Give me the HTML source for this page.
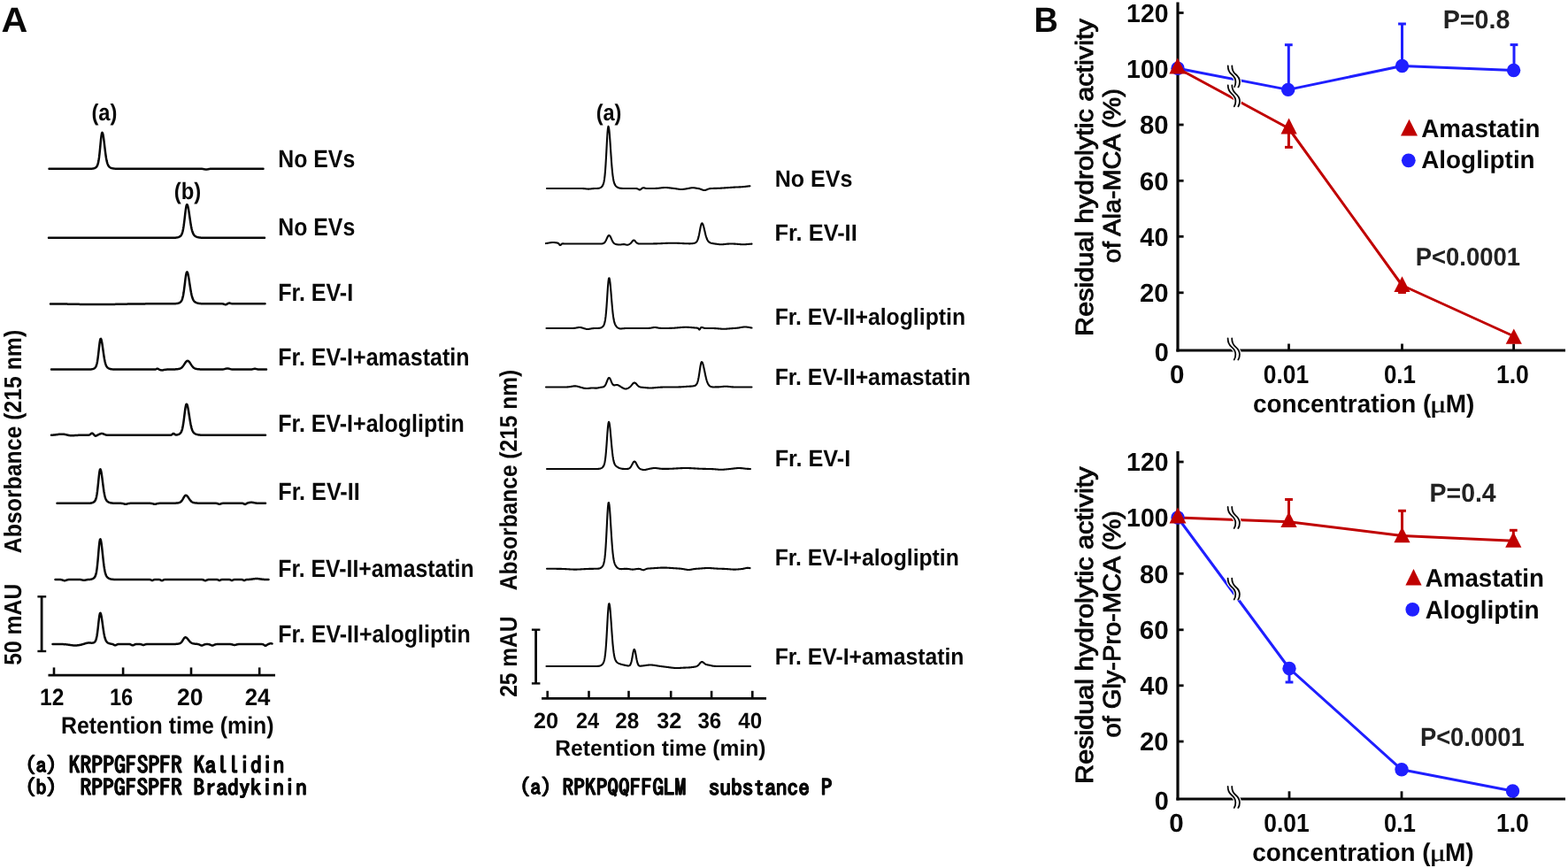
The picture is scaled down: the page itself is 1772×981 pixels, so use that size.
<!DOCTYPE html>
<html lang="en">
<head>
<meta charset="utf-8">
<title>Figure: peptide hydrolysis by EV fractions</title>
<style>
html,body{margin:0;padding:0;background:#fff;}
body{width:1772px;height:981px;overflow:hidden;}
svg{display:block;font-family:"Liberation Sans", Arial, Helvetica, sans-serif;text-rendering:geometricPrecision;}
</style>
</head>
<body>
<svg width="1772" height="981" viewBox="0 0 1772 981">
<rect width="1772" height="981" fill="#fff"/>
<text transform="translate(1.56 36.20) scale(1.0416 1)" font-size="39.57" font-weight="bold" fill="#080808">A</text>
<text transform="translate(1168.55 36.30) scale(0.9536 1)" font-size="39.71" font-weight="bold" fill="#080808">B</text>
<polyline points="55.5,190.80 56.0,190.80 56.5,190.80 57.0,190.80 57.5,190.80 58.0,190.80 58.5,190.80 59.0,190.80 59.5,190.80 60.0,190.80 60.5,190.80 61.0,190.80 61.5,190.80 62.0,190.80 62.5,190.80 63.0,190.80 63.5,190.80 64.0,190.80 64.5,190.80 65.0,190.80 65.5,190.80 66.0,190.80 66.5,190.80 67.0,190.80 67.5,190.80 68.0,190.80 68.5,190.80 69.0,190.80 69.5,190.80 70.0,190.80 70.5,190.80 71.0,190.80 71.5,190.80 72.0,190.80 72.5,190.80 73.0,190.80 73.5,190.80 74.0,190.80 74.5,190.80 75.0,190.80 75.5,190.80 76.0,190.80 76.5,190.80 77.0,190.80 77.5,190.80 78.0,190.80 78.5,190.80 79.0,190.80 79.5,190.80 80.0,190.80 80.5,190.80 81.0,190.80 81.5,190.80 82.0,190.80 82.5,190.80 83.0,190.80 83.5,190.80 84.0,190.80 84.5,190.80 85.0,190.80 85.5,190.80 86.0,190.80 86.5,190.80 87.0,190.80 87.5,190.80 88.0,190.80 88.5,190.80 89.0,190.80 89.5,190.80 90.0,190.80 90.5,190.80 91.0,190.80 91.5,190.80 92.0,190.80 92.5,190.80 93.0,190.80 93.5,190.80 94.0,190.80 94.5,190.80 95.0,190.80 95.5,190.80 96.0,190.80 96.5,190.80 97.0,190.80 97.5,190.80 98.0,190.80 98.5,190.80 99.0,190.80 99.5,190.80 100.0,190.79 100.5,190.79 101.0,190.79 101.5,190.78 102.0,190.77 102.5,190.75 103.0,190.73 103.5,190.70 104.0,190.66 104.5,190.61 105.0,190.54 105.5,190.44 106.0,190.33 106.5,190.18 107.0,190.00 107.5,189.77 108.0,189.48 108.5,189.12 109.0,188.64 109.5,187.99 110.0,187.08 110.5,185.77 111.0,183.92 111.5,181.36 112.0,177.96 112.5,173.71 113.0,168.72 113.5,163.37 114.0,158.17 114.5,153.78 115.0,150.84 115.5,149.80 116.0,150.47 116.5,152.40 117.0,155.40 117.5,159.17 118.0,163.37 118.5,167.67 119.0,171.79 119.5,175.51 120.0,178.71 120.5,181.36 121.0,183.47 121.5,185.11 122.0,186.35 122.5,187.29 123.0,187.99 123.5,188.52 124.0,188.94 124.5,189.27 125.0,189.54 125.5,189.77 126.0,189.95 126.5,190.11 127.0,190.24 127.5,190.35 128.0,190.44 128.5,190.52 129.0,190.58 129.5,190.63 130.0,190.67 130.5,190.70 131.0,190.73 131.5,190.74 132.0,190.76 132.5,190.77 133.0,190.78 133.5,190.78 134.0,190.79 134.5,190.79 135.0,190.79 135.5,190.80 136.0,190.80 136.5,190.80 137.0,190.80 137.5,190.80 138.0,190.80 138.5,190.80 139.0,190.80 139.5,190.80 140.0,190.80 140.5,190.80 141.0,190.80 141.5,190.80 142.0,190.80 142.5,190.80 143.0,190.80 143.5,190.80 144.0,190.80 144.5,190.80 145.0,190.80 145.5,190.80 146.0,190.80 146.5,190.80 147.0,190.80 147.5,190.80 148.0,190.80 148.5,190.80 149.0,190.80 149.5,190.80 150.0,190.80 150.5,190.80 151.0,190.80 151.5,190.80 152.0,190.80 152.5,190.80 153.0,190.80 153.5,190.80 154.0,190.80 154.5,190.80 155.0,190.80 155.5,190.80 156.0,190.80 156.5,190.80 157.0,190.80 157.5,190.80 158.0,190.80 158.5,190.80 159.0,190.80 159.5,190.80 160.0,190.80 160.5,190.80 161.0,190.80 161.5,190.80 162.0,190.80 162.5,190.80 163.0,190.80 163.5,190.80 164.0,190.80 164.5,190.80 165.0,190.80 165.5,190.80 166.0,190.80 166.5,190.80 167.0,190.80 167.5,190.80 168.0,190.80 168.5,190.80 169.0,190.80 169.5,190.80 170.0,190.80 170.5,190.80 171.0,190.80 171.5,190.80 172.0,190.80 172.5,190.80 173.0,190.80 173.5,190.80 174.0,190.80 174.5,190.80 175.0,190.80 175.5,190.80 176.0,190.80 176.5,190.80 177.0,190.80 177.5,190.80 178.0,190.80 178.5,190.80 179.0,190.80 179.5,190.80 180.0,190.80 180.5,190.80 181.0,190.80 181.5,190.80 182.0,190.80 182.5,190.80 183.0,190.80 183.5,190.80 184.0,190.80 184.5,190.80 185.0,190.80 185.5,190.80 186.0,190.80 186.5,190.80 187.0,190.80 187.5,190.80 188.0,190.80 188.5,190.80 189.0,190.80 189.5,190.80 190.0,190.80 190.5,190.80 191.0,190.80 191.5,190.80 192.0,190.80 192.5,190.80 193.0,190.80 193.5,190.80 194.0,190.80 194.5,190.80 195.0,190.80 195.5,190.80 196.0,190.80 196.5,190.80 197.0,190.80 197.5,190.80 198.0,190.80 198.5,190.80 199.0,190.80 199.5,190.80 200.0,190.80 200.5,190.80 201.0,190.80 201.5,190.80 202.0,190.80 202.5,190.80 203.0,190.80 203.5,190.80 204.0,190.80 204.5,190.80 205.0,190.80 205.5,190.80 206.0,190.80 206.5,190.80 207.0,190.80 207.5,190.80 208.0,190.80 208.5,190.80 209.0,190.80 209.5,190.80 210.0,190.80 210.5,190.80 211.0,190.80 211.5,190.80 212.0,190.80 212.5,190.80 213.0,190.80 213.5,190.80 214.0,190.80 214.5,190.80 215.0,190.80 215.5,190.80 216.0,190.80 216.5,190.80 217.0,190.80 217.5,190.80 218.0,190.80 218.5,190.80 219.0,190.80 219.5,190.80 220.0,190.80 220.5,190.80 221.0,190.80 221.5,190.80 222.0,190.80 222.5,190.80 223.0,190.80 223.5,190.80 224.0,190.80 224.5,190.80 225.0,190.80 225.5,190.80 226.0,190.80 226.5,190.80 227.0,190.81 227.5,190.82 228.0,190.84 228.5,190.86 229.0,190.91 229.5,190.97 230.0,191.06 230.5,191.17 231.0,191.29 231.5,191.40 232.0,191.51 232.5,191.58 233.0,191.60 233.5,191.58 234.0,191.51 234.5,191.40 235.0,191.29 235.5,191.17 236.0,191.06 236.5,190.97 237.0,190.91 237.5,190.86 238.0,190.84 238.5,190.82 239.0,190.81 239.5,190.80 240.0,190.80 240.5,190.80 241.0,190.80 241.5,190.80 242.0,190.80 242.5,190.80 243.0,190.80 243.5,190.80 244.0,190.80 244.5,190.80 245.0,190.80 245.5,190.80 246.0,190.80 246.5,190.80 247.0,190.80 247.5,190.80 248.0,190.80 248.5,190.80 249.0,190.80 249.5,190.80 250.0,190.80 250.5,190.80 251.0,190.80 251.5,190.80 252.0,190.80 252.5,190.80 253.0,190.80 253.5,190.80 254.0,190.80 254.5,190.80 255.0,190.80 255.5,190.80 256.0,190.80 256.5,190.80 257.0,190.80 257.5,190.80 258.0,190.80 258.5,190.80 259.0,190.80 259.5,190.80 260.0,190.80 260.5,190.80 261.0,190.80 261.5,190.80 262.0,190.80 262.5,190.80 263.0,190.80 263.5,190.80 264.0,190.80 264.5,190.80 265.0,190.80 265.5,190.80 266.0,190.80 266.5,190.80 267.0,190.80 267.5,190.80 268.0,190.80 268.5,190.80 269.0,190.80 269.5,190.80 270.0,190.80 270.5,190.80 271.0,190.80 271.5,190.80 272.0,190.80 272.5,190.80 273.0,190.80 273.5,190.80 274.0,190.80 274.5,190.80 275.0,190.80 275.5,190.80 276.0,190.80 276.5,190.80 277.0,190.80 277.5,190.80 278.0,190.80 278.5,190.80 279.0,190.80 279.5,190.80 280.0,190.80 280.5,190.80 281.0,190.80 281.5,190.80 282.0,190.80 282.5,190.80 283.0,190.80 283.5,190.80 284.0,190.80 284.5,190.80 285.0,190.80 285.5,190.80 286.0,190.80 286.5,190.80 287.0,190.80 287.5,190.80 288.0,190.80 288.5,190.80 289.0,190.80 289.5,190.80 290.0,190.80 290.5,190.80 291.0,190.80 291.5,190.80 292.0,190.80 292.5,190.80 293.0,190.80 293.5,190.80 294.0,190.80 294.5,190.80 295.0,190.80 295.5,190.80 296.0,190.80 296.5,190.80 297.0,190.80 297.5,190.80" fill="none" stroke="#080808" stroke-width="2.5" stroke-linejoin="round" stroke-linecap="round"/>
<text transform="translate(314.26 188.60) scale(0.8926 1)" font-size="27.83" font-weight="bold" fill="#080808" xml:space="preserve">No EVs</text>
<polyline points="55.0,268.80 55.5,268.80 56.0,268.80 56.5,268.80 57.0,268.80 57.5,268.80 58.0,268.80 58.5,268.80 59.0,268.80 59.5,268.80 60.0,268.80 60.5,268.80 61.0,268.80 61.5,268.80 62.0,268.80 62.5,268.80 63.0,268.80 63.5,268.80 64.0,268.80 64.5,268.80 65.0,268.80 65.5,268.80 66.0,268.80 66.5,268.80 67.0,268.80 67.5,268.80 68.0,268.80 68.5,268.80 69.0,268.80 69.5,268.80 70.0,268.80 70.5,268.80 71.0,268.80 71.5,268.80 72.0,268.80 72.5,268.80 73.0,268.80 73.5,268.80 74.0,268.80 74.5,268.80 75.0,268.80 75.5,268.80 76.0,268.80 76.5,268.80 77.0,268.80 77.5,268.80 78.0,268.80 78.5,268.80 79.0,268.80 79.5,268.80 80.0,268.80 80.5,268.80 81.0,268.80 81.5,268.80 82.0,268.80 82.5,268.80 83.0,268.80 83.5,268.80 84.0,268.80 84.5,268.80 85.0,268.80 85.5,268.80 86.0,268.80 86.5,268.80 87.0,268.80 87.5,268.80 88.0,268.80 88.5,268.80 89.0,268.80 89.5,268.80 90.0,268.80 90.5,268.80 91.0,268.80 91.5,268.80 92.0,268.80 92.5,268.80 93.0,268.80 93.5,268.80 94.0,268.80 94.5,268.80 95.0,268.80 95.5,268.80 96.0,268.80 96.5,268.80 97.0,268.80 97.5,268.80 98.0,268.80 98.5,268.80 99.0,268.80 99.5,268.80 100.0,268.80 100.5,268.80 101.0,268.80 101.5,268.80 102.0,268.80 102.5,268.80 103.0,268.80 103.5,268.80 104.0,268.80 104.5,268.80 105.0,268.80 105.5,268.80 106.0,268.80 106.5,268.80 107.0,268.80 107.5,268.80 108.0,268.80 108.5,268.80 109.0,268.80 109.5,268.80 110.0,268.80 110.5,268.80 111.0,268.80 111.5,268.80 112.0,268.80 112.5,268.80 113.0,268.80 113.5,268.80 114.0,268.80 114.5,268.80 115.0,268.80 115.5,268.80 116.0,268.80 116.5,268.80 117.0,268.80 117.5,268.80 118.0,268.80 118.5,268.80 119.0,268.80 119.5,268.80 120.0,268.80 120.5,268.80 121.0,268.80 121.5,268.80 122.0,268.80 122.5,268.80 123.0,268.80 123.5,268.80 124.0,268.80 124.5,268.80 125.0,268.80 125.5,268.80 126.0,268.80 126.5,268.80 127.0,268.80 127.5,268.80 128.0,268.80 128.5,268.80 129.0,268.80 129.5,268.80 130.0,268.80 130.5,268.80 131.0,268.80 131.5,268.80 132.0,268.80 132.5,268.80 133.0,268.80 133.5,268.80 134.0,268.80 134.5,268.80 135.0,268.80 135.5,268.80 136.0,268.80 136.5,268.80 137.0,268.80 137.5,268.80 138.0,268.80 138.5,268.80 139.0,268.80 139.5,268.80 140.0,268.80 140.5,268.80 141.0,268.80 141.5,268.80 142.0,268.80 142.5,268.80 143.0,268.80 143.5,268.80 144.0,268.80 144.5,268.80 145.0,268.80 145.5,268.80 146.0,268.80 146.5,268.80 147.0,268.80 147.5,268.80 148.0,268.80 148.5,268.80 149.0,268.80 149.5,268.80 150.0,268.80 150.5,268.80 151.0,268.80 151.5,268.80 152.0,268.80 152.5,268.80 153.0,268.80 153.5,268.80 154.0,268.80 154.5,268.80 155.0,268.80 155.5,268.80 156.0,268.80 156.5,268.80 157.0,268.80 157.5,268.80 158.0,268.80 158.5,268.80 159.0,268.80 159.5,268.80 160.0,268.80 160.5,268.80 161.0,268.80 161.5,268.80 162.0,268.80 162.5,268.80 163.0,268.80 163.5,268.80 164.0,268.80 164.5,268.80 165.0,268.80 165.5,268.80 166.0,268.80 166.5,268.80 167.0,268.80 167.5,268.80 168.0,268.80 168.5,268.80 169.0,268.80 169.5,268.80 170.0,268.80 170.5,268.80 171.0,268.80 171.5,268.80 172.0,268.80 172.5,268.80 173.0,268.80 173.5,268.80 174.0,268.80 174.5,268.80 175.0,268.80 175.5,268.80 176.0,268.80 176.5,268.80 177.0,268.80 177.5,268.80 178.0,268.80 178.5,268.80 179.0,268.80 179.5,268.80 180.0,268.80 180.5,268.80 181.0,268.80 181.5,268.80 182.0,268.80 182.5,268.80 183.0,268.80 183.5,268.80 184.0,268.80 184.5,268.80 185.0,268.80 185.5,268.80 186.0,268.80 186.5,268.80 187.0,268.80 187.5,268.80 188.0,268.80 188.5,268.80 189.0,268.80 189.5,268.80 190.0,268.80 190.5,268.80 191.0,268.80 191.5,268.80 192.0,268.80 192.5,268.80 193.0,268.80 193.5,268.80 194.0,268.79 194.5,268.79 195.0,268.79 195.5,268.78 196.0,268.77 196.5,268.76 197.0,268.74 197.5,268.72 198.0,268.69 198.5,268.66 199.0,268.61 199.5,268.55 200.0,268.47 200.5,268.38 201.0,268.26 201.5,268.12 202.0,267.95 202.5,267.74 203.0,267.49 203.5,267.17 204.0,266.77 204.5,266.24 205.0,265.52 205.5,264.53 206.0,263.19 206.5,261.37 207.0,258.99 207.5,255.99 208.0,252.38 208.5,248.28 209.0,243.92 209.5,239.64 210.0,235.86 210.5,232.99 211.0,231.37 211.5,231.18 212.0,232.04 212.5,233.78 213.0,236.27 213.5,239.31 214.0,242.70 214.5,246.20 215.0,249.63 215.5,252.84 216.0,255.72 216.5,258.22 217.0,260.31 217.5,262.01 218.0,263.37 218.5,264.44 219.0,265.27 219.5,265.92 220.0,266.42 220.5,266.82 221.0,267.14 221.5,267.41 222.0,267.63 222.5,267.81 223.0,267.97 223.5,268.11 224.0,268.23 224.5,268.33 225.0,268.41 225.5,268.48 226.0,268.54 226.5,268.59 227.0,268.64 227.5,268.67 228.0,268.70 228.5,268.72 229.0,268.74 229.5,268.75 230.0,268.76 230.5,268.77 231.0,268.78 231.5,268.78 232.0,268.79 232.5,268.79 233.0,268.79 233.5,268.80 234.0,268.80 234.5,268.80 235.0,268.80 235.5,268.80 236.0,268.80 236.5,268.80 237.0,268.80 237.5,268.80 238.0,268.80 238.5,268.80 239.0,268.80 239.5,268.80 240.0,268.80 240.5,268.80 241.0,268.80 241.5,268.80 242.0,268.80 242.5,268.80 243.0,268.80 243.5,268.80 244.0,268.80 244.5,268.80 245.0,268.80 245.5,268.80 246.0,268.80 246.5,268.80 247.0,268.80 247.5,268.80 248.0,268.80 248.5,268.80 249.0,268.80 249.5,268.80 250.0,268.80 250.5,268.80 251.0,268.80 251.5,268.80 252.0,268.80 252.5,268.80 253.0,268.80 253.5,268.80 254.0,268.80 254.5,268.80 255.0,268.80 255.5,268.80 256.0,268.80 256.5,268.80 257.0,268.80 257.5,268.80 258.0,268.80 258.5,268.80 259.0,268.80 259.5,268.80 260.0,268.80 260.5,268.80 261.0,268.80 261.5,268.80 262.0,268.80 262.5,268.80 263.0,268.80 263.5,268.80 264.0,268.80 264.5,268.80 265.0,268.80 265.5,268.80 266.0,268.80 266.5,268.80 267.0,268.80 267.5,268.80 268.0,268.80 268.5,268.80 269.0,268.80 269.5,268.80 270.0,268.80 270.5,268.80 271.0,268.80 271.5,268.80 272.0,268.80 272.5,268.80 273.0,268.80 273.5,268.80 274.0,268.80 274.5,268.80 275.0,268.80 275.5,268.80 276.0,268.80 276.5,268.80 277.0,268.80 277.5,268.80 278.0,268.80 278.5,268.80 279.0,268.80 279.5,268.80 280.0,268.80 280.5,268.80 281.0,268.80 281.5,268.80 282.0,268.80 282.5,268.80 283.0,268.80 283.5,268.80 284.0,268.80 284.5,268.80 285.0,268.80 285.5,268.80 286.0,268.80 286.5,268.80 287.0,268.80 287.5,268.80 288.0,268.80 288.5,268.80 289.0,268.80 289.5,268.80 290.0,268.80 290.5,268.80 291.0,268.80 291.5,268.80 292.0,268.80 292.5,268.80 293.0,268.80 293.5,268.80 294.0,268.80 294.5,268.80 295.0,268.80 295.5,268.80 296.0,268.80 296.5,268.80 297.0,268.80 297.5,268.80 298.0,268.80 298.5,268.80 299.0,268.80" fill="none" stroke="#080808" stroke-width="2.5" stroke-linejoin="round" stroke-linecap="round"/>
<text transform="translate(314.26 265.50) scale(0.8926 1)" font-size="27.83" font-weight="bold" fill="#080808" xml:space="preserve">No EVs</text>
<polyline points="57.0,343.38 57.5,343.39 58.0,343.39 58.5,343.40 59.0,343.40 59.5,343.40 60.0,343.41 60.5,343.41 61.0,343.42 61.5,343.42 62.0,343.43 62.5,343.43 63.0,343.44 63.5,343.44 64.0,343.45 64.5,343.45 65.0,343.46 65.5,343.46 66.0,343.47 66.5,343.48 67.0,343.48 67.5,343.49 68.0,343.50 68.5,343.50 69.0,343.51 69.5,343.52 70.0,343.52 70.5,343.53 71.0,343.54 71.5,343.54 72.0,343.55 72.5,343.56 73.0,343.57 73.5,343.58 74.0,343.58 74.5,343.59 75.0,343.60 75.5,343.61 76.0,343.62 76.5,343.63 77.0,343.63 77.5,343.64 78.0,343.65 78.5,343.66 79.0,343.67 79.5,343.68 80.0,343.69 80.5,343.70 81.0,343.71 81.5,343.72 82.0,343.73 82.5,343.74 83.0,343.75 83.5,343.76 84.0,343.77 84.5,343.78 85.0,343.79 85.5,343.79 86.0,343.80 86.5,343.81 87.0,343.82 87.5,343.83 88.0,343.84 88.5,343.85 89.0,343.86 89.5,343.87 90.0,343.88 90.5,343.89 91.0,343.90 91.5,343.91 92.0,343.92 92.5,343.93 93.0,343.93 93.5,343.94 94.0,343.95 94.5,343.96 95.0,343.97 95.5,343.98 96.0,343.98 96.5,343.99 97.0,344.00 97.5,344.01 98.0,344.01 98.5,344.02 99.0,344.03 99.5,344.03 100.0,344.04 100.5,344.04 101.0,344.05 101.5,344.06 102.0,344.06 102.5,344.06 103.0,344.07 103.5,344.07 104.0,344.08 104.5,344.08 105.0,344.08 105.5,344.09 106.0,344.09 106.5,344.09 107.0,344.09 107.5,344.10 108.0,344.10 108.5,344.10 109.0,344.10 109.5,344.10 110.0,344.10 110.5,344.10 111.0,344.10 111.5,344.10 112.0,344.10 112.5,344.10 113.0,344.09 113.5,344.09 114.0,344.09 114.5,344.09 115.0,344.08 115.5,344.08 116.0,344.08 116.5,344.07 117.0,344.07 117.5,344.06 118.0,344.06 118.5,344.06 119.0,344.05 119.5,344.04 120.0,344.04 120.5,344.03 121.0,344.03 121.5,344.02 122.0,344.01 122.5,344.01 123.0,344.00 123.5,343.99 124.0,343.98 124.5,343.98 125.0,343.97 125.5,343.96 126.0,343.95 126.5,343.94 127.0,343.93 127.5,343.93 128.0,343.92 128.5,343.91 129.0,343.90 129.5,343.89 130.0,343.88 130.5,343.87 131.0,343.86 131.5,343.85 132.0,343.84 132.5,343.83 133.0,343.82 133.5,343.81 134.0,343.80 134.5,343.79 135.0,343.79 135.5,343.78 136.0,343.77 136.5,343.76 137.0,343.75 137.5,343.74 138.0,343.73 138.5,343.72 139.0,343.71 139.5,343.70 140.0,343.69 140.5,343.68 141.0,343.67 141.5,343.66 142.0,343.65 142.5,343.64 143.0,343.63 143.5,343.63 144.0,343.62 144.5,343.61 145.0,343.60 145.5,343.59 146.0,343.58 146.5,343.58 147.0,343.57 147.5,343.56 148.0,343.55 148.5,343.54 149.0,343.54 149.5,343.53 150.0,343.52 150.5,343.52 151.0,343.51 151.5,343.50 152.0,343.50 152.5,343.49 153.0,343.48 153.5,343.48 154.0,343.47 154.5,343.46 155.0,343.46 155.5,343.45 156.0,343.45 156.5,343.44 157.0,343.44 157.5,343.43 158.0,343.43 158.5,343.42 159.0,343.42 159.5,343.41 160.0,343.41 160.5,343.40 161.0,343.40 161.5,343.40 162.0,343.39 162.5,343.39 163.0,343.38 163.5,343.38 164.0,343.38 164.5,343.37 165.0,343.37 165.5,343.37 166.0,343.37 166.5,343.36 167.0,343.36 167.5,343.36 168.0,343.35 168.5,343.35 169.0,343.35 169.5,343.35 170.0,343.34 170.5,343.34 171.0,343.34 171.5,343.34 172.0,343.34 172.5,343.34 173.0,343.33 173.5,343.33 174.0,343.33 174.5,343.33 175.0,343.33 175.5,343.33 176.0,343.32 176.5,343.32 177.0,343.32 177.5,343.32 178.0,343.32 178.5,343.32 179.0,343.32 179.5,343.32 180.0,343.32 180.5,343.32 181.0,343.31 181.5,343.31 182.0,343.31 182.5,343.31 183.0,343.31 183.5,343.31 184.0,343.31 184.5,343.31 185.0,343.31 185.5,343.31 186.0,343.31 186.5,343.31 187.0,343.31 187.5,343.31 188.0,343.31 188.5,343.31 189.0,343.31 189.5,343.30 190.0,343.30 190.5,343.30 191.0,343.30 191.5,343.30 192.0,343.30 192.5,343.30 193.0,343.30 193.5,343.30 194.0,343.30 194.5,343.29 195.0,343.29 195.5,343.28 196.0,343.27 196.5,343.26 197.0,343.25 197.5,343.23 198.0,343.20 198.5,343.16 199.0,343.12 199.5,343.06 200.0,342.99 200.5,342.90 201.0,342.79 201.5,342.65 202.0,342.49 202.5,342.29 203.0,342.05 203.5,341.75 204.0,341.36 204.5,340.85 205.0,340.17 205.5,339.23 206.0,337.94 206.5,336.21 207.0,333.93 207.5,331.07 208.0,327.62 208.5,323.70 209.0,319.54 209.5,315.46 210.0,311.84 210.5,309.10 211.0,307.56 211.5,307.37 212.0,308.19 212.5,309.86 213.0,312.24 213.5,315.14 214.0,318.37 214.5,321.72 215.0,325.00 215.5,328.06 216.0,330.81 216.5,333.19 217.0,335.19 217.5,336.82 218.0,338.12 218.5,339.14 219.0,339.93 219.5,340.55 220.0,341.03 220.5,341.41 221.0,341.72 221.5,341.97 222.0,342.18 222.5,342.36 223.0,342.51 223.5,342.64 224.0,342.75 224.5,342.85 225.0,342.93 225.5,343.00 226.0,343.05 226.5,343.10 227.0,343.14 227.5,343.18 228.0,343.20 228.5,343.22 229.0,343.24 229.5,343.25 230.0,343.27 230.5,343.27 231.0,343.28 231.5,343.29 232.0,343.29 232.5,343.29 233.0,343.29 233.5,343.30 234.0,343.30 234.5,343.30 235.0,343.30 235.5,343.30 236.0,343.30 236.5,343.30 237.0,343.30 237.5,343.30 238.0,343.30 238.5,343.30 239.0,343.30 239.5,343.30 240.0,343.30 240.5,343.30 241.0,343.30 241.5,343.30 242.0,343.30 242.5,343.30 243.0,343.30 243.5,343.30 244.0,343.30 244.5,343.30 245.0,343.30 245.5,343.30 246.0,343.30 246.5,343.30 247.0,343.30 247.5,343.30 248.0,343.30 248.5,343.30 249.0,343.30 249.5,343.30 250.0,343.30 250.5,343.31 251.0,343.33 251.5,343.37 252.0,343.44 252.5,343.55 253.0,343.71 253.5,343.91 254.0,344.10 254.5,344.24 255.0,344.28 255.5,344.19 256.0,343.99 256.5,343.71 257.0,343.38 257.5,343.06 258.0,342.79 258.5,342.61 259.0,342.53 259.5,342.55 260.0,342.66 260.5,342.82 261.0,342.97 261.5,343.10 262.0,343.19 262.5,343.25 263.0,343.28 263.5,343.29 264.0,343.30 264.5,343.30 265.0,343.30 265.5,343.30 266.0,343.30 266.5,343.30 267.0,343.30 267.5,343.30 268.0,343.30 268.5,343.30 269.0,343.30 269.5,343.30 270.0,343.30 270.5,343.30 271.0,343.30 271.5,343.30 272.0,343.30 272.5,343.30 273.0,343.30 273.5,343.30 274.0,343.30 274.5,343.30 275.0,343.30 275.5,343.30 276.0,343.30 276.5,343.30 277.0,343.30 277.5,343.30 278.0,343.30 278.5,343.30 279.0,343.30 279.5,343.30 280.0,343.30 280.5,343.30 281.0,343.30 281.5,343.30 282.0,343.30 282.5,343.30 283.0,343.30 283.5,343.30 284.0,343.30 284.5,343.30 285.0,343.30 285.5,343.30 286.0,343.30 286.5,343.30 287.0,343.30 287.5,343.30 288.0,343.30 288.5,343.30 289.0,343.30 289.5,343.30 290.0,343.30 290.5,343.30 291.0,343.30 291.5,343.30 292.0,343.30 292.5,343.30 293.0,343.30 293.5,343.30 294.0,343.30 294.5,343.30 295.0,343.30 295.5,343.30 296.0,343.30 296.5,343.30 297.0,343.30 297.5,343.30 298.0,343.30 298.5,343.30 299.0,343.30 299.5,343.30" fill="none" stroke="#080808" stroke-width="2.5" stroke-linejoin="round" stroke-linecap="round"/>
<text transform="translate(314.25 340.30) scale(0.9001 1)" font-size="27.83" font-weight="bold" fill="#080808" xml:space="preserve">Fr. EV-I</text>
<polyline points="58.0,417.60 58.5,417.60 59.0,417.60 59.5,417.60 60.0,417.60 60.5,417.60 61.0,417.60 61.5,417.60 62.0,417.60 62.5,417.60 63.0,417.60 63.5,417.60 64.0,417.60 64.5,417.60 65.0,417.60 65.5,417.60 66.0,417.60 66.5,417.60 67.0,417.60 67.5,417.60 68.0,417.60 68.5,417.60 69.0,417.60 69.5,417.60 70.0,417.60 70.5,417.60 71.0,417.60 71.5,417.60 72.0,417.60 72.5,417.60 73.0,417.60 73.5,417.60 74.0,417.60 74.5,417.60 75.0,417.60 75.5,417.60 76.0,417.60 76.5,417.60 77.0,417.60 77.5,417.60 78.0,417.60 78.5,417.60 79.0,417.60 79.5,417.60 80.0,417.60 80.5,417.60 81.0,417.60 81.5,417.60 82.0,417.60 82.5,417.60 83.0,417.60 83.5,417.60 84.0,417.60 84.5,417.60 85.0,417.60 85.5,417.60 86.0,417.60 86.5,417.60 87.0,417.60 87.5,417.60 88.0,417.60 88.5,417.60 89.0,417.60 89.5,417.60 90.0,417.60 90.5,417.60 91.0,417.60 91.5,417.60 92.0,417.60 92.5,417.60 93.0,417.60 93.5,417.60 94.0,417.60 94.5,417.60 95.0,417.60 95.5,417.60 96.0,417.60 96.5,417.60 97.0,417.60 97.5,417.60 98.0,417.60 98.5,417.59 99.0,417.59 99.5,417.59 100.0,417.58 100.5,417.57 101.0,417.55 101.5,417.53 102.0,417.50 102.5,417.47 103.0,417.41 103.5,417.35 104.0,417.26 104.5,417.15 105.0,417.01 105.5,416.84 106.0,416.63 106.5,416.37 107.0,416.02 107.5,415.57 108.0,414.94 108.5,414.04 109.0,412.77 109.5,410.97 110.0,408.53 110.5,405.34 111.0,401.46 111.5,397.06 112.0,392.50 112.5,388.30 113.0,385.01 113.5,383.12 114.0,382.89 114.5,383.90 115.0,385.93 115.5,388.77 116.0,392.15 116.5,395.78 117.0,399.39 117.5,402.77 118.0,405.76 118.5,408.30 119.0,410.36 119.5,411.98 120.0,413.23 120.5,414.17 121.0,414.88 121.5,415.41 122.0,415.82 122.5,416.14 123.0,416.40 123.5,416.61 124.0,416.79 124.5,416.94 125.0,417.06 125.5,417.17 126.0,417.25 126.5,417.33 127.0,417.38 127.5,417.43 128.0,417.47 128.5,417.50 129.0,417.53 129.5,417.54 130.0,417.56 130.5,417.57 131.0,417.58 131.5,417.58 132.0,417.59 132.5,417.59 133.0,417.59 133.5,417.60 134.0,417.60 134.5,417.60 135.0,417.60 135.5,417.60 136.0,417.60 136.5,417.60 137.0,417.60 137.5,417.60 138.0,417.60 138.5,417.60 139.0,417.60 139.5,417.60 140.0,417.60 140.5,417.60 141.0,417.60 141.5,417.60 142.0,417.60 142.5,417.60 143.0,417.60 143.5,417.60 144.0,417.60 144.5,417.60 145.0,417.60 145.5,417.60 146.0,417.60 146.5,417.60 147.0,417.60 147.5,417.60 148.0,417.60 148.5,417.60 149.0,417.60 149.5,417.60 150.0,417.60 150.5,417.60 151.0,417.60 151.5,417.60 152.0,417.60 152.5,417.60 153.0,417.60 153.5,417.60 154.0,417.60 154.5,417.60 155.0,417.60 155.5,417.60 156.0,417.60 156.5,417.60 157.0,417.60 157.5,417.60 158.0,417.60 158.5,417.60 159.0,417.60 159.5,417.60 160.0,417.60 160.5,417.60 161.0,417.60 161.5,417.60 162.0,417.60 162.5,417.60 163.0,417.60 163.5,417.60 164.0,417.60 164.5,417.60 165.0,417.60 165.5,417.60 166.0,417.60 166.5,417.60 167.0,417.60 167.5,417.60 168.0,417.60 168.5,417.60 169.0,417.60 169.5,417.60 170.0,417.60 170.5,417.60 171.0,417.60 171.5,417.60 172.0,417.60 172.5,417.60 173.0,417.60 173.5,417.60 174.0,417.60 174.5,417.59 175.0,417.56 175.5,417.49 176.0,417.35 176.5,417.15 177.0,416.90 177.5,416.70 178.0,416.64 178.5,416.75 179.0,417.00 179.5,417.32 180.0,417.61 180.5,417.85 181.0,418.04 181.5,418.19 182.0,418.30 182.5,418.37 183.0,418.40 183.5,418.38 184.0,418.31 184.5,418.20 185.0,418.08 185.5,417.97 186.0,417.86 186.5,417.77 187.0,417.71 187.5,417.66 188.0,417.63 188.5,417.61 189.0,417.60 189.5,417.60 190.0,417.59 190.5,417.59 191.0,417.59 191.5,417.58 192.0,417.58 192.5,417.57 193.0,417.57 193.5,417.56 194.0,417.55 194.5,417.54 195.0,417.53 195.5,417.51 196.0,417.50 196.5,417.48 197.0,417.46 197.5,417.43 198.0,417.41 198.5,417.37 199.0,417.34 199.5,417.29 200.0,417.25 200.5,417.19 201.0,417.12 201.5,417.04 202.0,416.95 202.5,416.83 203.0,416.68 203.5,416.50 204.0,416.28 204.5,416.00 205.0,415.66 205.5,415.25 206.0,414.77 206.5,414.21 207.0,413.57 207.5,412.87 208.0,412.12 208.5,411.35 209.0,410.57 209.5,409.83 210.0,409.16 210.5,408.59 211.0,408.16 211.5,407.89 212.0,407.80 212.5,407.89 213.0,408.16 213.5,408.59 214.0,409.16 214.5,409.83 215.0,410.57 215.5,411.35 216.0,412.12 216.5,412.87 217.0,413.57 217.5,414.21 218.0,414.77 218.5,415.25 219.0,415.66 219.5,416.00 220.0,416.28 220.5,416.50 221.0,416.68 221.5,416.83 222.0,416.95 222.5,417.04 223.0,417.12 223.5,417.19 224.0,417.25 224.5,417.29 225.0,417.34 225.5,417.37 226.0,417.41 226.5,417.43 227.0,417.46 227.5,417.48 228.0,417.50 228.5,417.51 229.0,417.53 229.5,417.54 230.0,417.55 230.5,417.56 231.0,417.57 231.5,417.57 232.0,417.58 232.5,417.58 233.0,417.59 233.5,417.59 234.0,417.59 234.5,417.59 235.0,417.59 235.5,417.60 236.0,417.60 236.5,417.60 237.0,417.60 237.5,417.60 238.0,417.60 238.5,417.60 239.0,417.60 239.5,417.60 240.0,417.60 240.5,417.60 241.0,417.60 241.5,417.60 242.0,417.60 242.5,417.60 243.0,417.60 243.5,417.60 244.0,417.60 244.5,417.60 245.0,417.60 245.5,417.60 246.0,417.60 246.5,417.60 247.0,417.60 247.5,417.60 248.0,417.60 248.5,417.60 249.0,417.59 249.5,417.59 250.0,417.58 250.5,417.56 251.0,417.53 251.5,417.49 252.0,417.44 252.5,417.36 253.0,417.27 253.5,417.15 254.0,417.02 254.5,416.87 255.0,416.73 255.5,416.60 256.0,416.49 256.5,416.42 257.0,416.40 257.5,416.42 258.0,416.49 258.5,416.60 259.0,416.73 259.5,416.87 260.0,417.02 260.5,417.15 261.0,417.27 261.5,417.36 262.0,417.44 262.5,417.49 263.0,417.53 263.5,417.56 264.0,417.58 264.5,417.59 265.0,417.59 265.5,417.60 266.0,417.60 266.5,417.60 267.0,417.60 267.5,417.60 268.0,417.60 268.5,417.60 269.0,417.60 269.5,417.60 270.0,417.60 270.5,417.60 271.0,417.60 271.5,417.60 272.0,417.60 272.5,417.60 273.0,417.60 273.5,417.60 274.0,417.60 274.5,417.60 275.0,417.60 275.5,417.60 276.0,417.60 276.5,417.60 277.0,417.60 277.5,417.60 278.0,417.60 278.5,417.60 279.0,417.60 279.5,417.60 280.0,417.60 280.5,417.60 281.0,417.60 281.5,417.60 282.0,417.59 282.5,417.58 283.0,417.56 283.5,417.54 284.0,417.49 284.5,417.43 285.0,417.34 285.5,417.23 286.0,417.11 286.5,417.00 287.0,416.89 287.5,416.82 288.0,416.80 288.5,416.82 289.0,416.89 289.5,417.00 290.0,417.11 290.5,417.23 291.0,417.34 291.5,417.43 292.0,417.49 292.5,417.54 293.0,417.56 293.5,417.58 294.0,417.59 294.5,417.60 295.0,417.60 295.5,417.60 296.0,417.60 296.5,417.60 297.0,417.60 297.5,417.60 298.0,417.60 298.5,417.60 299.0,417.60 299.5,417.60 300.0,417.60 300.5,417.60 301.0,417.60" fill="none" stroke="#080808" stroke-width="2.5" stroke-linejoin="round" stroke-linecap="round"/>
<text transform="translate(314.25 412.80) scale(0.8991 1)" font-size="27.83" font-weight="bold" fill="#080808" xml:space="preserve">Fr. EV-I+amastatin</text>
<polyline points="58.0,491.73 58.5,491.71 59.0,491.69 59.5,491.67 60.0,491.64 60.5,491.60 61.0,491.56 61.5,491.52 62.0,491.47 62.5,491.41 63.0,491.35 63.5,491.28 64.0,491.22 64.5,491.15 65.0,491.07 65.5,491.00 66.0,490.93 66.5,490.86 67.0,490.80 67.5,490.75 68.0,490.70 68.5,490.66 69.0,490.64 69.5,490.63 70.0,490.63 70.5,490.64 71.0,490.67 71.5,490.72 72.0,490.77 72.5,490.84 73.0,490.93 73.5,491.02 74.0,491.12 74.5,491.23 75.0,491.35 75.5,491.46 76.0,491.58 76.5,491.69 77.0,491.80 77.5,491.90 78.0,492.00 78.5,492.08 79.0,492.14 79.5,492.20 80.0,492.24 80.5,492.26 81.0,492.27 81.5,492.27 82.0,492.26 82.5,492.24 83.0,492.21 83.5,492.18 84.0,492.14 84.5,492.10 85.0,492.06 85.5,492.02 86.0,491.99 86.5,491.96 87.0,491.93 87.5,491.90 88.0,491.88 88.5,491.86 89.0,491.85 89.5,491.84 90.0,491.83 90.5,491.82 91.0,491.81 91.5,491.81 92.0,491.81 92.5,491.80 93.0,491.80 93.5,491.80 94.0,491.80 94.5,491.80 95.0,491.80 95.5,491.80 96.0,491.80 96.5,491.80 97.0,491.80 97.5,491.80 98.0,491.80 98.5,491.80 99.0,491.79 99.5,491.78 100.0,491.74 100.5,491.66 101.0,491.50 101.5,491.25 102.0,490.90 102.5,490.47 103.0,490.04 103.5,489.72 104.0,489.60 104.5,489.73 105.0,490.08 105.5,490.58 106.0,491.14 106.5,491.70 107.0,492.20 107.5,492.55 108.0,492.70 108.5,492.63 109.0,492.40 109.5,492.10 110.0,491.81 110.5,491.56 111.0,491.34 111.5,491.14 112.0,490.93 112.5,490.71 113.0,490.49 113.5,490.30 114.0,490.14 114.5,490.04 115.0,490.00 115.5,490.04 116.0,490.14 116.5,490.30 117.0,490.49 117.5,490.71 118.0,490.92 118.5,491.12 119.0,491.30 119.5,491.44 120.0,491.56 120.5,491.64 121.0,491.70 121.5,491.74 122.0,491.76 122.5,491.78 123.0,491.79 123.5,491.79 124.0,491.80 124.5,491.80 125.0,491.80 125.5,491.80 126.0,491.80 126.5,491.80 127.0,491.80 127.5,491.80 128.0,491.80 128.5,491.80 129.0,491.80 129.5,491.80 130.0,491.80 130.5,491.80 131.0,491.80 131.5,491.80 132.0,491.80 132.5,491.80 133.0,491.80 133.5,491.80 134.0,491.80 134.5,491.80 135.0,491.80 135.5,491.80 136.0,491.80 136.5,491.80 137.0,491.80 137.5,491.80 138.0,491.80 138.5,491.80 139.0,491.80 139.5,491.80 140.0,491.80 140.5,491.80 141.0,491.80 141.5,491.80 142.0,491.80 142.5,491.80 143.0,491.80 143.5,491.80 144.0,491.80 144.5,491.80 145.0,491.80 145.5,491.80 146.0,491.80 146.5,491.80 147.0,491.80 147.5,491.80 148.0,491.80 148.5,491.80 149.0,491.80 149.5,491.80 150.0,491.80 150.5,491.80 151.0,491.80 151.5,491.80 152.0,491.80 152.5,491.80 153.0,491.80 153.5,491.80 154.0,491.80 154.5,491.80 155.0,491.80 155.5,491.80 156.0,491.80 156.5,491.80 157.0,491.80 157.5,491.80 158.0,491.80 158.5,491.80 159.0,491.80 159.5,491.80 160.0,491.80 160.5,491.80 161.0,491.80 161.5,491.80 162.0,491.80 162.5,491.80 163.0,491.80 163.5,491.80 164.0,491.80 164.5,491.80 165.0,491.80 165.5,491.80 166.0,491.80 166.5,491.80 167.0,491.80 167.5,491.80 168.0,491.80 168.5,491.80 169.0,491.80 169.5,491.80 170.0,491.80 170.5,491.80 171.0,491.80 171.5,491.80 172.0,491.80 172.5,491.80 173.0,491.80 173.5,491.80 174.0,491.80 174.5,491.80 175.0,491.80 175.5,491.80 176.0,491.80 176.5,491.80 177.0,491.80 177.5,491.80 178.0,491.80 178.5,491.80 179.0,491.80 179.5,491.80 180.0,491.80 180.5,491.80 181.0,491.80 181.5,491.80 182.0,491.80 182.5,491.80 183.0,491.80 183.5,491.80 184.0,491.80 184.5,491.80 185.0,491.80 185.5,491.80 186.0,491.80 186.5,491.80 187.0,491.80 187.5,491.80 188.0,491.80 188.5,491.80 189.0,491.80 189.5,491.80 190.0,491.80 190.5,491.80 191.0,491.80 191.5,491.80 192.0,491.79 192.5,491.77 193.0,491.72 193.5,491.59 194.0,491.34 194.5,490.96 195.0,490.51 195.5,490.12 196.0,489.96 196.5,490.10 197.0,490.46 197.5,490.88 198.0,491.22 198.5,491.42 199.0,491.49 199.5,491.47 200.0,491.40 200.5,491.30 201.0,491.17 201.5,491.01 202.0,490.81 202.5,490.58 203.0,490.28 203.5,489.90 204.0,489.41 204.5,488.74 205.0,487.82 205.5,486.56 206.0,484.86 206.5,482.64 207.0,479.84 207.5,476.47 208.0,472.64 208.5,468.57 209.0,464.57 209.5,461.04 210.0,458.36 210.5,456.85 211.0,456.67 211.5,457.47 212.0,459.10 212.5,461.43 213.0,464.27 213.5,467.43 214.0,470.70 214.5,473.90 215.0,476.90 215.5,479.59 216.0,481.92 216.5,483.87 217.0,485.46 217.5,486.73 218.0,487.73 218.5,488.51 219.0,489.11 219.5,489.58 220.0,489.95 220.5,490.25 221.0,490.50 221.5,490.71 222.0,490.88 222.5,491.03 223.0,491.15 223.5,491.26 224.0,491.36 224.5,491.44 225.0,491.50 225.5,491.56 226.0,491.61 226.5,491.65 227.0,491.68 227.5,491.70 228.0,491.73 228.5,491.74 229.0,491.76 229.5,491.77 230.0,491.77 230.5,491.78 231.0,491.79 231.5,491.79 232.0,491.79 232.5,491.79 233.0,491.80 233.5,491.80 234.0,491.80 234.5,491.80 235.0,491.80 235.5,491.80 236.0,491.80 236.5,491.80 237.0,491.80 237.5,491.80 238.0,491.80 238.5,491.80 239.0,491.80 239.5,491.80 240.0,491.80 240.5,491.80 241.0,491.80 241.5,491.80 242.0,491.80 242.5,491.80 243.0,491.80 243.5,491.80 244.0,491.80 244.5,491.80 245.0,491.80 245.5,491.80 246.0,491.80 246.5,491.80 247.0,491.80 247.5,491.80 248.0,491.80 248.5,491.80 249.0,491.80 249.5,491.80 250.0,491.80 250.5,491.80 251.0,491.80 251.5,491.80 252.0,491.80 252.5,491.80 253.0,491.80 253.5,491.80 254.0,491.80 254.5,491.80 255.0,491.80 255.5,491.80 256.0,491.80 256.5,491.80 257.0,491.80 257.5,491.80 258.0,491.80 258.5,491.80 259.0,491.80 259.5,491.80 260.0,491.80 260.5,491.80 261.0,491.80 261.5,491.80 262.0,491.80 262.5,491.80 263.0,491.80 263.5,491.80 264.0,491.80 264.5,491.80 265.0,491.80 265.5,491.80 266.0,491.80 266.5,491.80 267.0,491.80 267.5,491.80 268.0,491.80 268.5,491.80 269.0,491.80 269.5,491.80 270.0,491.80 270.5,491.80 271.0,491.80 271.5,491.80 272.0,491.80 272.5,491.80 273.0,491.80 273.5,491.80 274.0,491.80 274.5,491.80 275.0,491.80 275.5,491.80 276.0,491.80 276.5,491.80 277.0,491.80 277.5,491.80 278.0,491.80 278.5,491.80 279.0,491.80 279.5,491.80 280.0,491.80 280.5,491.80 281.0,491.80 281.5,491.80 282.0,491.80 282.5,491.80 283.0,491.80 283.5,491.80 284.0,491.80 284.5,491.80 285.0,491.80 285.5,491.80 286.0,491.80 286.5,491.80 287.0,491.80 287.5,491.80 288.0,491.80 288.5,491.80 289.0,491.80 289.5,491.80 290.0,491.80 290.5,491.80 291.0,491.80 291.5,491.80 292.0,491.80 292.5,491.80 293.0,491.80 293.5,491.80 294.0,491.80 294.5,491.80 295.0,491.80 295.5,491.80 296.0,491.80 296.5,491.80 297.0,491.80 297.5,491.80 298.0,491.80 298.5,491.80 299.0,491.80 299.5,491.80 300.0,491.80" fill="none" stroke="#080808" stroke-width="2.5" stroke-linejoin="round" stroke-linecap="round"/>
<text transform="translate(314.25 487.80) scale(0.8991 1)" font-size="27.83" font-weight="bold" fill="#080808" xml:space="preserve">Fr. EV-I+alogliptin</text>
<polyline points="64.5,568.80 65.0,568.80 65.5,568.80 66.0,568.80 66.5,568.80 67.0,568.80 67.5,568.80 68.0,568.80 68.5,568.80 69.0,568.80 69.5,568.80 70.0,568.80 70.5,568.80 71.0,568.80 71.5,568.80 72.0,568.80 72.5,568.80 73.0,568.80 73.5,568.80 74.0,568.80 74.5,568.80 75.0,568.80 75.5,568.80 76.0,568.80 76.5,568.80 77.0,568.80 77.5,568.80 78.0,568.80 78.5,568.80 79.0,568.80 79.5,568.80 80.0,568.80 80.5,568.80 81.0,568.80 81.5,568.80 82.0,568.80 82.5,568.80 83.0,568.80 83.5,568.80 84.0,568.80 84.5,568.80 85.0,568.80 85.5,568.80 86.0,568.80 86.5,568.80 87.0,568.80 87.5,568.80 88.0,568.80 88.5,568.80 89.0,568.80 89.5,568.80 90.0,568.80 90.5,568.80 91.0,568.80 91.5,568.80 92.0,568.80 92.5,568.80 93.0,568.80 93.5,568.80 94.0,568.80 94.5,568.80 95.0,568.80 95.5,568.80 96.0,568.80 96.5,568.80 97.0,568.80 97.5,568.80 98.0,568.79 98.5,568.79 99.0,568.78 99.5,568.78 100.0,568.76 100.5,568.75 101.0,568.73 101.5,568.69 102.0,568.65 102.5,568.59 103.0,568.52 103.5,568.43 104.0,568.30 104.5,568.15 105.0,567.96 105.5,567.73 106.0,567.43 106.5,567.05 107.0,566.55 107.5,565.85 108.0,564.87 108.5,563.46 109.0,561.47 109.5,558.76 110.0,555.24 110.5,550.94 111.0,546.08 111.5,541.04 112.0,536.38 112.5,532.74 113.0,530.65 113.5,530.40 114.0,531.52 114.5,533.76 115.0,536.90 115.5,540.64 116.0,544.66 116.5,548.66 117.0,552.40 117.5,555.71 118.0,558.51 118.5,560.79 119.0,562.58 119.5,563.96 120.0,565.00 120.5,565.79 121.0,566.38 121.5,566.83 122.0,567.19 122.5,567.47 123.0,567.71 123.5,567.90 124.0,568.07 124.5,568.21 125.0,568.32 125.5,568.42 126.0,568.50 126.5,568.56 127.0,568.61 127.5,568.66 128.0,568.69 128.5,568.72 129.0,568.74 129.5,568.75 130.0,568.77 130.5,568.78 131.0,568.78 131.5,568.79 132.0,568.79 132.5,568.79 133.0,568.80 133.5,568.80 134.0,568.80 134.5,568.80 135.0,568.80 135.5,568.80 136.0,568.81 136.5,568.82 137.0,568.84 137.5,568.88 138.0,568.94 138.5,569.02 139.0,569.12 139.5,569.26 140.0,569.41 140.5,569.55 141.0,569.68 141.5,569.77 142.0,569.80 142.5,569.77 143.0,569.68 143.5,569.55 144.0,569.41 144.5,569.26 145.0,569.12 145.5,569.02 146.0,568.94 146.5,568.88 147.0,568.84 147.5,568.82 148.0,568.81 148.5,568.81 149.0,568.80 149.5,568.80 150.0,568.80 150.5,568.80 151.0,568.80 151.5,568.80 152.0,568.80 152.5,568.80 153.0,568.80 153.5,568.80 154.0,568.80 154.5,568.80 155.0,568.80 155.5,568.80 156.0,568.80 156.5,568.80 157.0,568.80 157.5,568.80 158.0,568.80 158.5,568.80 159.0,568.80 159.5,568.80 160.0,568.80 160.5,568.80 161.0,568.80 161.5,568.80 162.0,568.80 162.5,568.80 163.0,568.80 163.5,568.80 164.0,568.80 164.5,568.80 165.0,568.80 165.5,568.80 166.0,568.80 166.5,568.80 167.0,568.80 167.5,568.80 168.0,568.80 168.5,568.81 169.0,568.81 169.5,568.82 170.0,568.84 170.5,568.88 171.0,568.94 171.5,569.02 172.0,569.12 172.5,569.26 173.0,569.41 173.5,569.55 174.0,569.68 174.5,569.77 175.0,569.80 175.5,569.77 176.0,569.68 176.5,569.55 177.0,569.41 177.5,569.26 178.0,569.12 178.5,569.02 179.0,568.94 179.5,568.88 180.0,568.84 180.5,568.82 181.0,568.81 181.5,568.81 182.0,568.80 182.5,568.80 183.0,568.80 183.5,568.80 184.0,568.80 184.5,568.80 185.0,568.80 185.5,568.80 186.0,568.80 186.5,568.80 187.0,568.80 187.5,568.80 188.0,568.80 188.5,568.80 189.0,568.80 189.5,568.80 190.0,568.80 190.5,568.80 191.0,568.80 191.5,568.80 192.0,568.79 192.5,568.79 193.0,568.79 193.5,568.79 194.0,568.78 194.5,568.78 195.0,568.77 195.5,568.76 196.0,568.75 196.5,568.74 197.0,568.72 197.5,568.70 198.0,568.68 198.5,568.65 199.0,568.62 199.5,568.58 200.0,568.53 200.5,568.48 201.0,568.41 201.5,568.33 202.0,568.23 202.5,568.09 203.0,567.92 203.5,567.69 204.0,567.38 204.5,566.99 205.0,566.50 205.5,565.90 206.0,565.18 206.5,564.37 207.0,563.49 207.5,562.58 208.0,561.71 208.5,560.94 209.0,560.33 209.5,559.93 210.0,559.80 210.5,559.89 211.0,560.17 211.5,560.61 212.0,561.18 212.5,561.85 213.0,562.58 213.5,563.34 214.0,564.08 214.5,564.79 215.0,565.43 215.5,566.01 216.0,566.50 216.5,566.92 217.0,567.26 217.5,567.54 218.0,567.77 218.5,567.95 219.0,568.09 219.5,568.21 220.0,568.30 220.5,568.37 221.0,568.44 221.5,568.49 222.0,568.53 222.5,568.57 223.0,568.61 223.5,568.63 224.0,568.66 224.5,568.68 225.0,568.70 225.5,568.72 226.0,568.73 226.5,568.74 227.0,568.75 227.5,568.76 228.0,568.77 228.5,568.78 229.0,568.78 229.5,568.78 230.0,568.79 230.5,568.79 231.0,568.79 231.5,568.79 232.0,568.80 232.5,568.80 233.0,568.80 233.5,568.80 234.0,568.80 234.5,568.80 235.0,568.80 235.5,568.80 236.0,568.80 236.5,568.80 237.0,568.80 237.5,568.80 238.0,568.80 238.5,568.80 239.0,568.80 239.5,568.80 240.0,568.80 240.5,568.80 241.0,568.80 241.5,568.80 242.0,568.80 242.5,568.80 243.0,568.80 243.5,568.81 244.0,568.83 244.5,568.87 245.0,568.94 245.5,569.05 246.0,569.21 246.5,569.41 247.0,569.60 247.5,569.75 248.0,569.80 248.5,569.75 249.0,569.60 249.5,569.41 250.0,569.21 250.5,569.05 251.0,568.94 251.5,568.87 252.0,568.83 252.5,568.81 253.0,568.80 253.5,568.80 254.0,568.80 254.5,568.80 255.0,568.80 255.5,568.80 256.0,568.80 256.5,568.80 257.0,568.80 257.5,568.80 258.0,568.80 258.5,568.80 259.0,568.80 259.5,568.80 260.0,568.80 260.5,568.80 261.0,568.80 261.5,568.80 262.0,568.80 262.5,568.80 263.0,568.80 263.5,568.80 264.0,568.80 264.5,568.80 265.0,568.80 265.5,568.80 266.0,568.80 266.5,568.80 267.0,568.80 267.5,568.80 268.0,568.80 268.5,568.80 269.0,568.80 269.5,568.80 270.0,568.80 270.5,568.80 271.0,568.80 271.5,568.80 272.0,568.80 272.5,568.80 273.0,568.80 273.5,568.81 274.0,568.85 274.5,568.93 275.0,569.09 275.5,569.33 276.0,569.62 276.5,569.86 277.0,569.93 277.5,569.80 278.0,569.51 278.5,569.16 279.0,568.85 279.5,568.61 280.0,568.44 280.5,568.31 281.0,568.20 281.5,568.09 282.0,568.00 282.5,567.92 283.0,567.85 283.5,567.81 284.0,567.80 284.5,567.81 285.0,567.85 285.5,567.92 286.0,568.00 286.5,568.09 287.0,568.19 287.5,568.29 288.0,568.39 288.5,568.48 289.0,568.55 289.5,568.61 290.0,568.66 290.5,568.70 291.0,568.73 291.5,568.76 292.0,568.77 292.5,568.78 293.0,568.79 293.5,568.79 294.0,568.80 294.5,568.80 295.0,568.80 295.5,568.80 296.0,568.80 296.5,568.80 297.0,568.80 297.5,568.80 298.0,568.80 298.5,568.80 299.0,568.80 299.5,568.80 300.0,568.80" fill="none" stroke="#080808" stroke-width="2.5" stroke-linejoin="round" stroke-linecap="round"/>
<text transform="translate(314.24 565.30) scale(0.9061 1)" font-size="27.83" font-weight="bold" fill="#080808" xml:space="preserve">Fr. EV-II</text>
<polyline points="62.5,655.00 63.0,655.00 63.5,655.00 64.0,655.00 64.5,655.00 65.0,655.00 65.5,655.00 66.0,655.00 66.5,655.01 67.0,655.01 67.5,655.03 68.0,655.05 68.5,655.10 69.0,655.16 69.5,655.26 70.0,655.39 70.5,655.55 71.0,655.73 71.5,655.91 72.0,656.06 72.5,656.16 73.0,656.20 73.5,656.16 74.0,656.06 74.5,655.91 75.0,655.73 75.5,655.55 76.0,655.39 76.5,655.26 77.0,655.16 77.5,655.10 78.0,655.05 78.5,655.03 79.0,655.01 79.5,655.01 80.0,655.00 80.5,655.00 81.0,655.00 81.5,655.00 82.0,655.00 82.5,655.00 83.0,655.00 83.5,655.00 84.0,655.00 84.5,655.00 85.0,655.00 85.5,655.00 86.0,655.00 86.5,655.00 87.0,655.00 87.5,655.00 88.0,655.00 88.5,655.00 89.0,655.01 89.5,655.02 90.0,655.04 90.5,655.06 91.0,655.11 91.5,655.17 92.0,655.26 92.5,655.37 93.0,655.49 93.5,655.60 94.0,655.71 94.5,655.78 95.0,655.80 95.5,655.77 96.0,655.70 96.5,655.60 97.0,655.48 97.5,655.36 98.0,655.25 98.5,655.16 99.0,655.09 99.5,655.04 100.0,654.99 100.5,654.96 101.0,654.92 101.5,654.88 102.0,654.83 102.5,654.76 103.0,654.67 103.5,654.56 104.0,654.41 104.5,654.23 105.0,654.01 105.5,653.73 106.0,653.38 106.5,652.93 107.0,652.33 107.5,651.50 108.0,650.33 108.5,648.66 109.0,646.30 109.5,643.08 110.0,638.91 110.5,633.81 111.0,628.03 111.5,622.04 112.0,616.52 112.5,612.20 113.0,609.72 113.5,609.42 114.0,610.75 114.5,613.41 115.0,617.14 115.5,621.58 116.0,626.35 116.5,631.09 117.0,635.53 117.5,639.46 118.0,642.78 118.5,645.49 119.0,647.62 119.5,649.26 120.0,650.49 120.5,651.42 121.0,652.12 121.5,652.66 122.0,653.09 122.5,653.43 123.0,653.70 123.5,653.94 124.0,654.13 124.5,654.29 125.0,654.43 125.5,654.55 126.0,654.64 126.5,654.72 127.0,654.78 127.5,654.83 128.0,654.87 128.5,654.90 129.0,654.93 129.5,654.95 130.0,654.96 130.5,654.97 131.0,654.98 131.5,654.98 132.0,654.99 132.5,654.99 133.0,654.99 133.5,655.00 134.0,655.00 134.5,655.00 135.0,655.00 135.5,655.00 136.0,655.00 136.5,655.00 137.0,655.00 137.5,655.00 138.0,655.00 138.5,655.00 139.0,655.00 139.5,655.00 140.0,655.00 140.5,655.00 141.0,655.00 141.5,655.00 142.0,655.00 142.5,655.00 143.0,655.00 143.5,655.00 144.0,655.00 144.5,655.00 145.0,655.00 145.5,655.00 146.0,655.00 146.5,655.00 147.0,655.00 147.5,655.00 148.0,655.00 148.5,655.00 149.0,655.00 149.5,655.00 150.0,655.00 150.5,655.00 151.0,655.00 151.5,655.00 152.0,655.00 152.5,655.00 153.0,655.00 153.5,655.00 154.0,655.00 154.5,655.00 155.0,655.00 155.5,655.00 156.0,655.00 156.5,655.00 157.0,655.00 157.5,655.00 158.0,655.00 158.5,655.00 159.0,655.00 159.5,655.00 160.0,655.00 160.5,655.00 161.0,655.00 161.5,655.00 162.0,655.00 162.5,655.00 163.0,655.00 163.5,655.00 164.0,655.00 164.5,655.00 165.0,655.00 165.5,655.00 166.0,655.00 166.5,655.00 167.0,655.00 167.5,655.00 168.0,655.00 168.5,655.01 169.0,655.04 169.5,655.11 170.0,655.25 170.5,655.46 171.0,655.71 171.5,655.92 172.0,656.00 172.5,655.92 173.0,655.71 173.5,655.46 174.0,655.25 174.5,655.11 175.0,655.04 175.5,655.01 176.0,655.00 176.5,655.00 177.0,655.00 177.5,655.00 178.0,655.00 178.5,655.00 179.0,655.00 179.5,655.02 180.0,655.05 180.5,655.14 181.0,655.30 181.5,655.55 182.0,655.85 182.5,656.10 183.0,656.20 183.5,656.10 184.0,655.85 184.5,655.55 185.0,655.30 185.5,655.14 186.0,655.05 186.5,655.02 187.0,655.00 187.5,655.00 188.0,655.00 188.5,655.00 189.0,655.00 189.5,655.00 190.0,655.00 190.5,655.00 191.0,655.00 191.5,655.00 192.0,655.00 192.5,655.00 193.0,655.00 193.5,655.00 194.0,655.00 194.5,655.00 195.0,655.00 195.5,655.00 196.0,655.00 196.5,655.00 197.0,655.00 197.5,655.00 198.0,655.00 198.5,655.00 199.0,655.00 199.5,655.00 200.0,655.00 200.5,655.00 201.0,655.00 201.5,655.00 202.0,655.00 202.5,655.00 203.0,655.00 203.5,655.00 204.0,655.00 204.5,655.00 205.0,655.00 205.5,655.00 206.0,655.00 206.5,655.00 207.0,655.00 207.5,655.00 208.0,655.00 208.5,655.00 209.0,655.00 209.5,655.00 210.0,655.00 210.5,655.00 211.0,655.00 211.5,655.00 212.0,655.00 212.5,655.00 213.0,655.00 213.5,655.00 214.0,655.00 214.5,655.00 215.0,655.00 215.5,655.00 216.0,655.00 216.5,655.00 217.0,655.00 217.5,655.00 218.0,655.00 218.5,655.00 219.0,655.00 219.5,655.00 220.0,655.00 220.5,655.00 221.0,655.00 221.5,655.00 222.0,655.00 222.5,655.00 223.0,655.00 223.5,655.00 224.0,655.00 224.5,655.00 225.0,655.00 225.5,655.00 226.0,655.00 226.5,655.00 227.0,655.00 227.5,655.01 228.0,655.03 228.5,655.08 229.0,655.16 229.5,655.30 230.0,655.49 230.5,655.73 231.0,655.96 231.5,656.14 232.0,656.20 232.5,656.14 233.0,655.96 233.5,655.73 234.0,655.49 234.5,655.30 235.0,655.16 235.5,655.08 236.0,655.03 236.5,655.01 237.0,655.00 237.5,655.00 238.0,655.00 238.5,655.00 239.0,655.00 239.5,655.00 240.0,655.00 240.5,655.00 241.0,655.00 241.5,655.00 242.0,655.00 242.5,655.00 243.0,655.00 243.5,655.00 244.0,655.00 244.5,655.01 245.0,655.04 245.5,655.11 246.0,655.25 246.5,655.46 247.0,655.71 247.5,655.92 248.0,656.00 248.5,655.92 249.0,655.71 249.5,655.46 250.0,655.25 250.5,655.11 251.0,655.04 251.5,655.01 252.0,655.00 252.5,655.00 253.0,655.00 253.5,655.00 254.0,655.00 254.5,655.00 255.0,655.00 255.5,655.00 256.0,655.00 256.5,655.00 257.0,655.00 257.5,655.00 258.0,655.00 258.5,655.01 259.0,655.04 259.5,655.11 260.0,655.25 260.5,655.46 261.0,655.71 261.5,655.92 262.0,656.00 262.5,655.92 263.0,655.71 263.5,655.46 264.0,655.25 264.5,655.11 265.0,655.04 265.5,655.01 266.0,655.00 266.5,655.00 267.0,655.00 267.5,655.00 268.0,655.00 268.5,655.00 269.0,655.00 269.5,655.00 270.0,655.00 270.5,655.00 271.0,655.00 271.5,655.00 272.0,655.00 272.5,655.01 273.0,655.04 273.5,655.11 274.0,655.25 274.5,655.46 275.0,655.71 275.5,655.92 276.0,656.00 276.5,655.91 277.0,655.70 277.5,655.45 278.0,655.24 278.5,655.10 279.0,655.02 279.5,654.98 280.0,654.96 280.5,654.94 281.0,654.92 281.5,654.90 282.0,654.86 282.5,654.83 283.0,654.78 283.5,654.73 284.0,654.68 284.5,654.61 285.0,654.54 285.5,654.47 286.0,654.39 286.5,654.32 287.0,654.25 287.5,654.18 288.0,654.12 288.5,654.07 289.0,654.03 289.5,654.01 290.0,654.00 290.5,654.01 291.0,654.03 291.5,654.07 292.0,654.12 292.5,654.18 293.0,654.25 293.5,654.32 294.0,654.39 294.5,654.47 295.0,654.54 295.5,654.61 296.0,654.68 296.5,654.73 297.0,654.78 297.5,654.83 298.0,654.86 298.5,654.90 299.0,654.92 299.5,654.94 300.0,654.96 300.5,654.97 301.0,654.98 301.5,654.98 302.0,654.99 302.5,654.99 303.0,654.99 303.5,655.00" fill="none" stroke="#080808" stroke-width="2.5" stroke-linejoin="round" stroke-linecap="round"/>
<text transform="translate(314.26 651.50) scale(0.8917 1)" font-size="27.83" font-weight="bold" fill="#080808" xml:space="preserve">Fr. EV-II+amastatin</text>
<polyline points="59.5,728.00 60.0,728.00 60.5,728.00 61.0,728.00 61.5,728.00 62.0,728.00 62.5,728.00 63.0,728.00 63.5,728.00 64.0,728.00 64.5,728.00 65.0,728.01 65.5,728.01 66.0,728.01 66.5,728.01 67.0,728.02 67.5,728.02 68.0,728.03 68.5,728.03 69.0,728.04 69.5,728.05 70.0,728.07 70.5,728.08 71.0,728.10 71.5,728.12 72.0,728.14 72.5,728.17 73.0,728.20 73.5,728.24 74.0,728.28 74.5,728.32 75.0,728.37 75.5,728.43 76.0,728.49 76.5,728.55 77.0,728.62 77.5,728.69 78.0,728.76 78.5,728.83 79.0,728.91 79.5,728.99 80.0,729.06 80.5,729.13 81.0,729.20 81.5,729.27 82.0,729.32 82.5,729.38 83.0,729.42 83.5,729.45 84.0,729.48 84.5,729.49 85.0,729.50 85.5,729.49 86.0,729.48 86.5,729.45 87.0,729.41 87.5,729.36 88.0,729.31 88.5,729.24 89.0,729.17 89.5,729.08 90.0,728.99 90.5,728.90 91.0,728.79 91.5,728.68 92.0,728.56 92.5,728.43 93.0,728.29 93.5,728.15 94.0,728.00 94.5,727.85 95.0,727.69 95.5,727.53 96.0,727.37 96.5,727.21 97.0,727.07 97.5,726.93 98.0,726.81 98.5,726.71 99.0,726.63 99.5,726.57 100.0,726.53 100.5,726.52 101.0,726.52 101.5,726.54 102.0,726.57 102.5,726.60 103.0,726.63 103.5,726.65 104.0,726.65 104.5,726.62 105.0,726.55 105.5,726.44 106.0,726.27 106.5,726.01 107.0,725.62 107.5,725.05 108.0,724.20 108.5,722.96 109.0,721.18 109.5,718.73 110.0,715.54 110.5,711.63 111.0,707.19 111.5,702.59 112.0,698.35 112.5,695.02 113.0,693.12 113.5,692.89 114.0,693.91 114.5,695.96 115.0,698.83 115.5,702.25 116.0,705.93 116.5,709.59 117.0,713.00 117.5,716.03 118.0,718.59 118.5,720.68 119.0,722.32 119.5,723.58 120.0,724.53 120.5,725.24 121.0,725.79 121.5,726.20 122.0,726.53 122.5,726.79 123.0,727.00 123.5,727.18 124.0,727.33 124.5,727.46 125.0,727.57 125.5,727.66 126.0,727.76 126.5,727.87 127.0,728.01 127.5,728.19 128.0,728.43 128.5,728.71 129.0,728.98 129.5,729.19 130.0,729.27 130.5,729.21 131.0,729.02 131.5,728.78 132.0,728.53 132.5,728.32 133.0,728.17 133.5,728.08 134.0,728.04 134.5,728.01 135.0,728.00 135.5,728.00 136.0,728.00 136.5,728.00 137.0,728.00 137.5,728.00 138.0,728.00 138.5,728.00 139.0,728.00 139.5,728.00 140.0,728.00 140.5,728.00 141.0,728.00 141.5,728.00 142.0,728.00 142.5,728.00 143.0,728.00 143.5,728.00 144.0,728.00 144.5,728.00 145.0,728.01 145.5,728.01 146.0,728.04 146.5,728.09 147.0,728.18 147.5,728.32 148.0,728.53 148.5,728.79 149.0,729.04 149.5,729.23 150.0,729.30 150.5,729.23 151.0,729.04 151.5,728.79 152.0,728.53 152.5,728.32 153.0,728.18 153.5,728.09 154.0,728.04 154.5,728.01 155.0,728.01 155.5,728.00 156.0,728.00 156.5,728.00 157.0,728.00 157.5,728.01 158.0,728.03 158.5,728.07 159.0,728.14 159.5,728.25 160.0,728.41 160.5,728.61 161.0,728.80 161.5,728.95 162.0,729.00 162.5,728.95 163.0,728.80 163.5,728.61 164.0,728.41 164.5,728.25 165.0,728.14 165.5,728.07 166.0,728.03 166.5,728.01 167.0,728.00 167.5,728.00 168.0,728.00 168.5,728.00 169.0,728.00 169.5,728.00 170.0,728.00 170.5,728.00 171.0,728.00 171.5,728.00 172.0,728.00 172.5,728.00 173.0,728.00 173.5,728.00 174.0,728.00 174.5,728.00 175.0,728.00 175.5,728.00 176.0,728.00 176.5,728.00 177.0,728.00 177.5,728.00 178.0,728.00 178.5,728.00 179.0,728.00 179.5,728.00 180.0,728.00 180.5,728.00 181.0,728.00 181.5,728.00 182.0,728.00 182.5,728.00 183.0,728.00 183.5,728.00 184.0,728.00 184.5,728.00 185.0,728.00 185.5,728.00 186.0,728.00 186.5,728.00 187.0,728.00 187.5,728.00 188.0,728.00 188.5,728.00 189.0,728.00 189.5,728.00 190.0,728.00 190.5,728.00 191.0,728.00 191.5,728.00 192.0,728.00 192.5,728.00 193.0,727.99 193.5,727.99 194.0,727.99 194.5,727.99 195.0,727.98 195.5,727.97 196.0,727.97 196.5,727.96 197.0,727.94 197.5,727.93 198.0,727.91 198.5,727.89 199.0,727.86 199.5,727.83 200.0,727.79 200.5,727.74 201.0,727.68 201.5,727.61 202.0,727.52 202.5,727.39 203.0,727.23 203.5,727.01 204.0,726.72 204.5,726.34 205.0,725.86 205.5,725.27 206.0,724.57 206.5,723.78 207.0,722.96 207.5,722.14 208.0,721.40 208.5,720.81 209.0,720.43 209.5,720.30 210.0,720.38 210.5,720.61 211.0,720.98 211.5,721.46 212.0,722.02 212.5,722.64 213.0,723.28 213.5,723.91 214.0,724.51 214.5,725.06 215.0,725.55 215.5,725.98 216.0,726.34 216.5,726.64 217.0,726.89 217.5,727.09 218.0,727.25 218.5,727.37 219.0,727.47 219.5,727.55 220.0,727.62 220.5,727.68 221.0,727.73 221.5,727.77 222.0,727.81 222.5,727.86 223.0,727.92 223.5,727.99 224.0,728.10 224.5,728.23 225.0,728.41 225.5,728.62 226.0,728.86 226.5,729.09 227.0,729.29 227.5,729.43 228.0,729.48 228.5,729.44 229.0,729.31 229.5,729.12 230.0,728.90 230.5,728.68 231.0,728.48 231.5,728.32 232.0,728.20 232.5,728.12 233.0,728.07 233.5,728.04 234.0,728.03 234.5,728.04 235.0,728.07 235.5,728.12 236.0,728.20 236.5,728.32 237.0,728.49 237.5,728.69 238.0,728.91 238.5,729.13 239.0,729.32 239.5,729.45 240.0,729.50 240.5,729.45 241.0,729.32 241.5,729.13 242.0,728.91 242.5,728.69 243.0,728.49 243.5,728.32 244.0,728.20 244.5,728.12 245.0,728.07 245.5,728.03 246.0,728.02 246.5,728.01 247.0,728.00 247.5,728.00 248.0,728.00 248.5,728.00 249.0,728.00 249.5,728.00 250.0,728.00 250.5,728.00 251.0,728.00 251.5,728.00 252.0,728.00 252.5,728.00 253.0,728.00 253.5,728.00 254.0,728.00 254.5,728.00 255.0,728.00 255.5,728.00 256.0,728.00 256.5,728.00 257.0,728.00 257.5,728.00 258.0,728.00 258.5,728.01 259.0,728.01 259.5,728.02 260.0,728.04 260.5,728.08 261.0,728.14 261.5,728.22 262.0,728.32 262.5,728.46 263.0,728.61 263.5,728.75 264.0,728.88 264.5,728.97 265.0,729.00 265.5,728.97 266.0,728.88 266.5,728.75 267.0,728.61 267.5,728.46 268.0,728.32 268.5,728.22 269.0,728.14 269.5,728.08 270.0,728.04 270.5,728.02 271.0,728.01 271.5,728.01 272.0,728.00 272.5,728.00 273.0,728.00 273.5,728.00 274.0,728.00 274.5,728.00 275.0,728.00 275.5,728.00 276.0,728.00 276.5,728.00 277.0,728.00 277.5,728.00 278.0,728.00 278.5,728.00 279.0,728.00 279.5,728.00 280.0,728.00 280.5,728.00 281.0,728.00 281.5,728.00 282.0,728.00 282.5,728.00 283.0,728.00 283.5,728.00 284.0,728.00 284.5,728.00 285.0,728.00 285.5,728.00 286.0,728.00 286.5,728.00 287.0,728.00 287.5,728.00 288.0,728.00 288.5,728.00 289.0,728.00 289.5,728.00 290.0,728.00 290.5,728.00 291.0,728.00 291.5,728.00 292.0,728.00 292.5,728.00 293.0,728.00 293.5,728.00 294.0,728.00 294.5,728.00 295.0,728.01 295.5,728.02 296.0,728.05 296.5,728.12 297.0,728.24 297.5,728.45 298.0,728.74 298.5,729.09 299.0,729.44 299.5,729.70 300.0,729.80 300.5,729.70 301.0,729.44 301.5,729.08 302.0,728.72 302.5,728.40 303.0,728.14 303.5,727.92 304.0,727.72 304.5,727.53 305.0,727.37 305.5,727.25 306.0,727.20 306.5,727.24 307.0,727.36 307.5,727.51" fill="none" stroke="#080808" stroke-width="2.5" stroke-linejoin="round" stroke-linecap="round"/>
<text transform="translate(314.25 725.90) scale(0.8989 1)" font-size="27.83" font-weight="bold" fill="#080808" xml:space="preserve">Fr. EV-II+alogliptin</text>
<text transform="translate(103.41 135.77) scale(0.9015 1)" font-size="26.34" font-weight="bold" fill="#080808">(a)</text>
<text transform="translate(196.81 225.45) scale(0.9035 1)" font-size="26.45" font-weight="bold" fill="#080808">(b)</text>
<line x1="47.10" y1="674.00" x2="47.10" y2="736.20" stroke="#080808" stroke-width="2.8" stroke-linecap="butt"/>
<line x1="42.40" y1="674.30" x2="52.20" y2="674.30" stroke="#080808" stroke-width="2.4" stroke-linecap="butt"/>
<line x1="42.40" y1="736.00" x2="52.20" y2="736.00" stroke="#080808" stroke-width="2.4" stroke-linecap="butt"/>
<text transform="translate(24.30 751.84) rotate(-90) scale(0.8984 1)" font-size="27.54" font-weight="bold" fill="#080808" xml:space="preserve">50 mAU</text>
<text transform="translate(24.30 625.14) rotate(-90) scale(0.9012 1)" font-size="27.54" font-weight="bold" fill="#080808" xml:space="preserve">Absorbance (215 nm)</text>
<line x1="54.50" y1="763.20" x2="311.00" y2="763.20" stroke="#080808" stroke-width="2.8" stroke-linecap="butt"/>
<line x1="61.00" y1="754.40" x2="61.00" y2="763.20" stroke="#080808" stroke-width="2.6" stroke-linecap="butt"/>
<line x1="139.10" y1="754.40" x2="139.10" y2="763.20" stroke="#080808" stroke-width="2.6" stroke-linecap="butt"/>
<line x1="216.00" y1="754.40" x2="216.00" y2="763.20" stroke="#080808" stroke-width="2.6" stroke-linecap="butt"/>
<line x1="293.20" y1="754.40" x2="293.20" y2="763.20" stroke="#080808" stroke-width="2.6" stroke-linecap="butt"/>
<text transform="translate(45.03 796.93) scale(0.9176 1)" font-size="26.76" font-weight="bold" fill="#080808">12</text>
<text transform="translate(123.88 796.93) scale(0.8843 1)" font-size="26.76" font-weight="bold" fill="#080808">16</text>
<text transform="translate(199.90 796.93) scale(0.9917 1)" font-size="26.76" font-weight="bold" fill="#080808">20</text>
<text transform="translate(276.73 796.93) scale(0.9654 1)" font-size="26.76" font-weight="bold" fill="#080808">24</text>
<text transform="translate(68.96 829.00) scale(0.9237 1)" font-size="26.96" font-weight="bold" fill="#080808" xml:space="preserve">Retention time (min)</text>
<text transform="translate(28.45 872.91) scale(1.0147 1)" font-size="23.59" font-weight="bold" fill="#080808" font-family='IPAGothic, "Liberation Mono", monospace' stroke="#080808" stroke-width="0.5" stroke-linejoin="round">(a)</text>
<text transform="translate(77.72 873.75) scale(0.9752 1)" font-size="26.30" font-weight="bold" fill="#080808" font-family='IPAGothic, "Liberation Mono", monospace' stroke="#080808" stroke-width="0.5" stroke-linejoin="round" xml:space="preserve">KRPPGFSPFR Kallidin</text>
<text transform="translate(28.45 898.13) scale(1.0242 1)" font-size="23.37" font-weight="bold" fill="#080808" font-family='IPAGothic, "Liberation Mono", monospace' stroke="#080808" stroke-width="0.5" stroke-linejoin="round">(b)</text>
<text transform="translate(90.42 898.81) scale(1.0120 1)" font-size="25.34" font-weight="bold" fill="#080808" font-family='IPAGothic, "Liberation Mono", monospace' stroke="#080808" stroke-width="0.5" stroke-linejoin="round" xml:space="preserve">RPPGFSPFR Bradykinin</text>
<polyline points="618.0,213.00 618.5,213.00 619.0,213.00 619.5,213.00 620.0,213.00 620.5,213.00 621.0,213.00 621.5,213.00 622.0,213.00 622.5,213.00 623.0,213.00 623.5,213.00 624.0,213.00 624.5,213.00 625.0,213.00 625.5,213.00 626.0,213.00 626.5,213.00 627.0,213.00 627.5,213.00 628.0,213.00 628.5,213.00 629.0,213.00 629.5,213.00 630.0,213.00 630.5,213.00 631.0,213.00 631.5,213.00 632.0,213.00 632.5,213.00 633.0,213.00 633.5,213.00 634.0,213.00 634.5,213.00 635.0,213.00 635.5,213.00 636.0,213.00 636.5,213.00 637.0,213.00 637.5,213.00 638.0,213.00 638.5,213.00 639.0,213.00 639.5,213.00 640.0,213.00 640.5,213.00 641.0,213.00 641.5,213.00 642.0,213.00 642.5,213.00 643.0,213.00 643.5,213.00 644.0,213.00 644.5,213.00 645.0,213.00 645.5,213.00 646.0,213.00 646.5,213.00 647.0,213.00 647.5,213.00 648.0,213.00 648.5,213.00 649.0,213.00 649.5,213.00 650.0,213.00 650.5,213.00 651.0,213.00 651.5,213.00 652.0,213.00 652.5,213.00 653.0,213.00 653.5,213.00 654.0,213.00 654.5,213.00 655.0,213.00 655.5,213.00 656.0,213.01 656.5,213.01 657.0,213.02 657.5,213.03 658.0,213.04 658.5,213.06 659.0,213.08 659.5,213.11 660.0,213.15 660.5,213.19 661.0,213.25 661.5,213.30 662.0,213.36 662.5,213.42 663.0,213.48 663.5,213.53 664.0,213.57 664.5,213.59 665.0,213.60 665.5,213.59 666.0,213.57 666.5,213.53 667.0,213.48 667.5,213.42 668.0,213.36 668.5,213.30 669.0,213.25 669.5,213.19 670.0,213.15 670.5,213.11 671.0,213.08 671.5,213.05 672.0,213.03 672.5,213.02 673.0,213.00 673.5,212.99 674.0,212.97 674.5,212.95 675.0,212.93 675.5,212.89 676.0,212.84 676.5,212.76 677.0,212.67 677.5,212.54 678.0,212.37 678.5,212.15 679.0,211.87 679.5,211.52 680.0,211.09 680.5,210.53 681.0,209.81 681.5,208.84 682.0,207.47 682.5,205.51 683.0,202.65 683.5,198.59 684.0,193.04 684.5,185.86 685.0,177.22 685.5,167.71 686.0,158.29 686.5,150.21 687.0,144.74 687.5,142.80 688.0,144.05 688.5,147.65 689.0,153.20 689.5,160.11 690.0,167.71 690.5,175.37 691.0,182.56 691.5,188.92 692.0,194.28 692.5,198.59 693.0,201.95 693.5,204.49 694.0,206.38 694.5,207.79 695.0,208.84 695.5,209.64 696.0,210.27 696.5,210.77 697.0,211.18 697.5,211.52 698.0,211.81 698.5,212.05 699.0,212.24 699.5,212.40 700.0,212.54 700.5,212.64 701.0,212.73 701.5,212.79 702.0,212.85 702.5,212.89 703.0,212.92 703.5,212.94 704.0,212.96 704.5,212.97 705.0,212.98 705.5,212.98 706.0,212.99 706.5,212.99 707.0,213.00 707.5,213.00 708.0,213.00 708.5,213.00 709.0,213.00 709.5,213.00 710.0,213.00 710.5,213.00 711.0,213.00 711.5,213.00 712.0,213.00 712.5,213.00 713.0,213.00 713.5,213.00 714.0,213.00 714.5,213.00 715.0,213.00 715.5,213.00 716.0,213.00 716.5,213.00 717.0,213.00 717.5,213.00 718.0,213.01 718.5,213.02 719.0,213.04 719.5,213.10 720.0,213.20 720.5,213.37 721.0,213.62 721.5,213.91 722.0,214.20 722.5,214.41 723.0,214.48 723.5,214.37 724.0,214.09 724.5,213.71 725.0,213.29 725.5,212.89 726.0,212.56 726.5,212.34 727.0,212.24 727.5,212.26 728.0,212.37 728.5,212.52 729.0,212.67 729.5,212.80 730.0,212.89 730.5,212.95 731.0,212.98 731.5,212.99 732.0,213.00 732.5,213.00 733.0,213.00 733.5,213.00 734.0,213.00 734.5,213.00 735.0,213.00 735.5,213.00 736.0,212.99 736.5,212.99 737.0,212.99 737.5,212.99 738.0,212.98 738.5,212.97 739.0,212.97 739.5,212.96 740.0,212.94 740.5,212.93 741.0,212.91 741.5,212.89 742.0,212.86 742.5,212.84 743.0,212.80 743.5,212.76 744.0,212.72 744.5,212.68 745.0,212.62 745.5,212.57 746.0,212.51 746.5,212.45 747.0,212.39 747.5,212.33 748.0,212.27 748.5,212.22 749.0,212.16 749.5,212.12 750.0,212.08 750.5,212.04 751.0,212.02 751.5,212.01 752.0,212.00 752.5,212.01 753.0,212.02 753.5,212.04 754.0,212.08 754.5,212.12 755.0,212.17 755.5,212.22 756.0,212.28 756.5,212.34 757.0,212.40 757.5,212.46 758.0,212.52 758.5,212.59 759.0,212.65 759.5,212.71 760.0,212.77 760.5,212.82 761.0,212.88 761.5,212.94 762.0,213.00 762.5,213.06 763.0,213.13 763.5,213.20 764.0,213.27 764.5,213.34 765.0,213.42 765.5,213.50 766.0,213.59 766.5,213.67 767.0,213.74 767.5,213.81 768.0,213.88 768.5,213.93 769.0,213.97 769.5,213.99 770.0,214.00 770.5,213.99 771.0,213.97 771.5,213.93 772.0,213.88 772.5,213.82 773.0,213.75 773.5,213.68 774.0,213.60 774.5,213.52 775.0,213.43 775.5,213.35 776.0,213.27 776.5,213.19 777.0,213.11 777.5,213.02 778.0,212.94 778.5,212.84 779.0,212.75 779.5,212.65 780.0,212.56 780.5,212.47 781.0,212.38 781.5,212.31 782.0,212.25 782.5,212.22 783.0,212.21 783.5,212.21 784.0,212.25 784.5,212.30 785.0,212.36 785.5,212.44 786.0,212.52 786.5,212.61 787.0,212.69 787.5,212.78 788.0,212.86 788.5,212.94 789.0,213.02 789.5,213.11 790.0,213.22 790.5,213.34 791.0,213.47 791.5,213.63 792.0,213.81 792.5,214.00 793.0,214.21 793.5,214.41 794.0,214.60 794.5,214.76 795.0,214.89 795.5,214.97 796.0,214.99 796.5,214.96 797.0,214.88 797.5,214.75 798.0,214.59 798.5,214.40 799.0,214.20 799.5,213.99 800.0,213.80 800.5,213.63 801.0,213.47 801.5,213.34 802.0,213.24 802.5,213.15 803.0,213.09 803.5,213.04 804.0,213.00 804.5,212.98 805.0,212.96 805.5,212.94 806.0,212.93 806.5,212.91 807.0,212.90 807.5,212.89 808.0,212.88 808.5,212.87 809.0,212.86 809.5,212.84 810.0,212.83 810.5,212.81 811.0,212.80 811.5,212.78 812.0,212.76 812.5,212.74 813.0,212.72 813.5,212.70 814.0,212.68 814.5,212.65 815.0,212.63 815.5,212.60 816.0,212.57 816.5,212.54 817.0,212.51 817.5,212.48 818.0,212.45 818.5,212.42 819.0,212.38 819.5,212.35 820.0,212.31 820.5,212.28 821.0,212.24 821.5,212.20 822.0,212.17 822.5,212.13 823.0,212.09 823.5,212.05 824.0,212.01 824.5,211.98 825.0,211.94 825.5,211.90 826.0,211.87 826.5,211.83 827.0,211.80 827.5,211.76 828.0,211.73 828.5,211.70 829.0,211.67 829.5,211.64 830.0,211.62 830.5,211.59 831.0,211.57 831.5,211.55 832.0,211.52 832.5,211.50 833.0,211.48 833.5,211.47 834.0,211.45 834.5,211.43 835.0,211.41 835.5,211.39 836.0,211.37 836.5,211.35 837.0,211.33 837.5,211.30 838.0,211.28 838.5,211.24 839.0,211.21 839.5,211.17 840.0,211.13 840.5,211.08 841.0,211.03 841.5,210.97 842.0,210.91 842.5,210.85 843.0,210.79 843.5,210.72 844.0,210.65 844.5,210.59 845.0,210.53 845.5,210.47 846.0,210.41 846.5,210.37 847.0,210.33 847.5,210.29" fill="none" stroke="#080808" stroke-width="2.1" stroke-linejoin="round" stroke-linecap="round"/>
<text transform="translate(875.64 211.00) scale(0.9506 1)" font-size="26.38" font-weight="bold" fill="#080808" xml:space="preserve">No EVs</text>
<polyline points="617.0,275.08 617.5,275.01 618.0,274.94 618.5,274.86 619.0,274.77 619.5,274.68 620.0,274.59 620.5,274.50 621.0,274.41 621.5,274.33 622.0,274.25 622.5,274.18 623.0,274.12 623.5,274.07 624.0,274.03 624.5,274.01 625.0,274.00 625.5,274.01 626.0,274.03 626.5,274.07 627.0,274.12 627.5,274.18 628.0,274.25 628.5,274.33 629.0,274.41 629.5,274.50 630.0,274.61 630.5,274.77 631.0,275.04 631.5,275.50 632.0,276.15 632.5,276.78 633.0,277.08 633.5,276.91 634.0,276.42 634.5,275.90 635.0,275.57 635.5,275.42 636.0,275.39 636.5,275.40 637.0,275.42 637.5,275.43 638.0,275.45 638.5,275.46 639.0,275.47 639.5,275.48 640.0,275.48 640.5,275.49 641.0,275.49 641.5,275.49 642.0,275.50 642.5,275.50 643.0,275.50 643.5,275.50 644.0,275.50 644.5,275.50 645.0,275.50 645.5,275.50 646.0,275.50 646.5,275.50 647.0,275.50 647.5,275.50 648.0,275.50 648.5,275.50 649.0,275.50 649.5,275.50 650.0,275.50 650.5,275.50 651.0,275.50 651.5,275.50 652.0,275.50 652.5,275.50 653.0,275.50 653.5,275.50 654.0,275.50 654.5,275.50 655.0,275.50 655.5,275.50 656.0,275.50 656.5,275.50 657.0,275.50 657.5,275.50 658.0,275.50 658.5,275.50 659.0,275.50 659.5,275.50 660.0,275.50 660.5,275.50 661.0,275.50 661.5,275.50 662.0,275.50 662.5,275.50 663.0,275.50 663.5,275.50 664.0,275.50 664.5,275.50 665.0,275.50 665.5,275.50 666.0,275.50 666.5,275.50 667.0,275.50 667.5,275.50 668.0,275.50 668.5,275.50 669.0,275.50 669.5,275.50 670.0,275.50 670.5,275.50 671.0,275.50 671.5,275.50 672.0,275.50 672.5,275.50 673.0,275.50 673.5,275.50 674.0,275.50 674.5,275.50 675.0,275.50 675.5,275.50 676.0,275.50 676.5,275.50 677.0,275.50 677.5,275.50 678.0,275.50 678.5,275.49 679.0,275.48 679.5,275.47 680.0,275.44 680.5,275.39 681.0,275.32 681.5,275.19 682.0,275.00 682.5,274.71 683.0,274.31 683.5,273.77 684.0,273.08 684.5,272.24 685.0,271.26 685.5,270.18 686.0,269.08 686.5,268.03 687.0,267.12 687.5,266.45 688.0,266.07 688.5,266.04 689.0,266.36 689.5,266.99 690.0,267.87 690.5,268.92 691.0,270.04 691.5,271.15 692.0,272.18 692.5,273.10 693.0,273.86 693.5,274.48 694.0,274.97 694.5,275.34 695.0,275.61 695.5,275.83 696.0,275.99 696.5,276.12 697.0,276.22 697.5,276.30 698.0,276.37 698.5,276.43 699.0,276.47 699.5,276.49 700.0,276.50 700.5,276.49 701.0,276.47 701.5,276.43 702.0,276.39 702.5,276.33 703.0,276.27 703.5,276.21 704.0,276.16 704.5,276.13 705.0,276.12 705.5,276.15 706.0,276.21 706.5,276.32 707.0,276.44 707.5,276.58 708.0,276.69 708.5,276.77 709.0,276.77 709.5,276.71 710.0,276.57 710.5,276.38 711.0,276.13 711.5,275.84 712.0,275.50 712.5,275.11 713.0,274.64 713.5,274.10 714.0,273.49 714.5,272.86 715.0,272.28 715.5,271.81 716.0,271.55 716.5,271.52 717.0,271.74 717.5,272.16 718.0,272.71 718.5,273.32 719.0,273.89 719.5,274.39 720.0,274.78 720.5,275.06 721.0,275.25 721.5,275.36 722.0,275.43 722.5,275.47 723.0,275.48 723.5,275.49 724.0,275.50 724.5,275.50 725.0,275.50 725.5,275.50 726.0,275.50 726.5,275.50 727.0,275.50 727.5,275.50 728.0,275.50 728.5,275.49 729.0,275.49 729.5,275.49 730.0,275.49 730.5,275.49 731.0,275.49 731.5,275.49 732.0,275.48 732.5,275.48 733.0,275.48 733.5,275.48 734.0,275.47 734.5,275.47 735.0,275.46 735.5,275.46 736.0,275.46 736.5,275.45 737.0,275.44 737.5,275.44 738.0,275.43 738.5,275.42 739.0,275.41 739.5,275.40 740.0,275.39 740.5,275.38 741.0,275.37 741.5,275.36 742.0,275.34 742.5,275.33 743.0,275.31 743.5,275.29 744.0,275.28 744.5,275.26 745.0,275.24 745.5,275.22 746.0,275.20 746.5,275.18 747.0,275.16 747.5,275.13 748.0,275.11 748.5,275.09 749.0,275.06 749.5,275.04 750.0,275.01 750.5,274.99 751.0,274.97 751.5,274.94 752.0,274.92 752.5,274.90 753.0,274.87 753.5,274.85 754.0,274.83 754.5,274.81 755.0,274.79 755.5,274.78 756.0,274.76 756.5,274.75 757.0,274.74 757.5,274.72 758.0,274.72 758.5,274.71 759.0,274.70 759.5,274.70 760.0,274.70 760.5,274.70 761.0,274.70 761.5,274.71 762.0,274.72 762.5,274.72 763.0,274.74 763.5,274.75 764.0,274.76 764.5,274.78 765.0,274.79 765.5,274.81 766.0,274.83 766.5,274.85 767.0,274.87 767.5,274.90 768.0,274.92 768.5,274.94 769.0,274.97 769.5,274.99 770.0,275.01 770.5,275.04 771.0,275.06 771.5,275.09 772.0,275.11 772.5,275.13 773.0,275.16 773.5,275.18 774.0,275.20 774.5,275.22 775.0,275.24 775.5,275.26 776.0,275.27 776.5,275.29 777.0,275.30 777.5,275.31 778.0,275.32 778.5,275.33 779.0,275.33 779.5,275.33 780.0,275.33 780.5,275.31 781.0,275.29 781.5,275.27 782.0,275.23 782.5,275.18 783.0,275.11 783.5,275.03 784.0,274.93 784.5,274.81 785.0,274.66 785.5,274.47 786.0,274.22 786.5,273.90 787.0,273.46 787.5,272.86 788.0,272.03 788.5,270.92 789.0,269.45 789.5,267.61 790.0,265.39 790.5,262.86 791.0,260.18 791.5,257.55 792.0,255.22 792.5,253.46 793.0,252.46 793.5,252.34 794.0,252.87 794.5,253.95 795.0,255.48 795.5,257.35 796.0,259.43 796.5,261.59 797.0,263.70 797.5,265.68 798.0,267.45 798.5,268.99 799.0,270.27 799.5,271.32 800.0,272.16 800.5,272.82 801.0,273.33 801.5,273.73 802.0,274.04 802.5,274.29 803.0,274.49 803.5,274.66 804.0,274.80 804.5,274.92 805.0,275.03 805.5,275.12 806.0,275.21 806.5,275.29 807.0,275.37 807.5,275.44 808.0,275.52 808.5,275.59 809.0,275.66 809.5,275.73 810.0,275.80 810.5,275.88 811.0,275.95 811.5,276.02 812.0,276.08 812.5,276.14 813.0,276.19 813.5,276.24 814.0,276.27 814.5,276.29 815.0,276.30 815.5,276.29 816.0,276.27 816.5,276.24 817.0,276.21 817.5,276.16 818.0,276.10 818.5,276.05 819.0,275.99 819.5,275.92 820.0,275.87 820.5,275.81 821.0,275.76 821.5,275.71 822.0,275.67 822.5,275.64 823.0,275.61 823.5,275.59 824.0,275.57 824.5,275.55 825.0,275.54 825.5,275.54 826.0,275.53 826.5,275.53 827.0,275.54 827.5,275.54 828.0,275.55 828.5,275.56 829.0,275.57 829.5,275.59 830.0,275.61 830.5,275.63 831.0,275.66 831.5,275.69 832.0,275.72 832.5,275.76 833.0,275.80 833.5,275.84 834.0,275.89 834.5,275.94 835.0,275.99 835.5,276.03 836.0,276.08 836.5,276.13 837.0,276.17 837.5,276.21 838.0,276.24 838.5,276.26 839.0,276.28 839.5,276.30 840.0,276.30 840.5,276.30 841.0,276.28 841.5,276.26 842.0,276.24 842.5,276.21 843.0,276.17 843.5,276.13 844.0,276.08 844.5,276.03 845.0,275.99 845.5,275.94 846.0,275.89 846.5,275.84 847.0,275.80 847.5,275.76 848.0,275.72 848.5,275.69 849.0,275.66 849.5,275.63" fill="none" stroke="#080808" stroke-width="2.1" stroke-linejoin="round" stroke-linecap="round"/>
<text transform="translate(875.62 272.30) scale(0.9623 1)" font-size="26.38" font-weight="bold" fill="#080808" xml:space="preserve">Fr. EV-II</text>
<polyline points="617.5,371.00 618.0,371.00 618.5,371.00 619.0,371.00 619.5,371.00 620.0,371.00 620.5,371.00 621.0,371.00 621.5,371.00 622.0,371.00 622.5,371.00 623.0,371.00 623.5,371.00 624.0,371.00 624.5,371.00 625.0,371.00 625.5,371.00 626.0,371.00 626.5,371.00 627.0,371.00 627.5,371.00 628.0,371.00 628.5,371.00 629.0,371.00 629.5,371.00 630.0,371.00 630.5,371.00 631.0,371.00 631.5,371.00 632.0,371.00 632.5,371.00 633.0,371.00 633.5,371.00 634.0,371.00 634.5,371.00 635.0,371.00 635.5,371.00 636.0,371.00 636.5,371.00 637.0,371.00 637.5,371.00 638.0,371.00 638.5,371.00 639.0,371.00 639.5,371.00 640.0,371.00 640.5,371.00 641.0,371.00 641.5,371.00 642.0,371.00 642.5,371.00 643.0,371.00 643.5,371.00 644.0,371.00 644.5,371.00 645.0,371.00 645.5,370.99 646.0,370.99 646.5,370.98 647.0,370.97 647.5,370.96 648.0,370.93 648.5,370.90 649.0,370.86 649.5,370.81 650.0,370.75 650.5,370.68 651.0,370.59 651.5,370.49 652.0,370.39 652.5,370.29 653.0,370.20 653.5,370.12 654.0,370.06 654.5,370.02 655.0,370.01 655.5,370.03 656.0,370.08 656.5,370.16 657.0,370.26 657.5,370.39 658.0,370.53 658.5,370.68 659.0,370.84 659.5,371.00 660.0,371.16 660.5,371.32 661.0,371.47 661.5,371.61 662.0,371.74 662.5,371.84 663.0,371.92 663.5,371.97 664.0,371.99 664.5,371.98 665.0,371.94 665.5,371.88 666.0,371.80 666.5,371.71 667.0,371.61 667.5,371.51 668.0,371.41 668.5,371.32 669.0,371.25 669.5,371.19 670.0,371.14 670.5,371.10 671.0,371.07 671.5,371.04 672.0,371.03 672.5,371.01 673.0,371.01 673.5,371.00 674.0,370.99 674.5,370.98 675.0,370.97 675.5,370.95 676.0,370.93 676.5,370.89 677.0,370.84 677.5,370.78 678.0,370.69 678.5,370.57 679.0,370.42 679.5,370.23 680.0,369.98 680.5,369.67 681.0,369.28 681.5,368.78 682.0,368.13 682.5,367.23 683.0,365.95 683.5,364.10 684.0,361.43 684.5,357.68 685.0,352.65 685.5,346.32 686.0,338.97 686.5,331.17 687.0,323.84 687.5,318.03 688.0,314.67 688.5,314.26 689.0,316.07 689.5,319.67 690.0,324.67 690.5,330.56 691.0,336.80 691.5,342.91 692.0,348.50 692.5,353.36 693.0,357.38 693.5,360.57 694.0,363.05 694.5,364.92 695.0,366.33 695.5,367.40 696.0,368.24 696.5,368.90 697.0,369.44 697.5,369.90 698.0,370.28 698.5,370.61 699.0,370.87 699.5,371.08 700.0,371.24 700.5,371.35 701.0,371.42 701.5,371.45 702.0,371.44 702.5,371.42 703.0,371.37 703.5,371.32 704.0,371.27 704.5,371.22 705.0,371.17 705.5,371.13 706.0,371.09 706.5,371.07 707.0,371.05 707.5,371.03 708.0,371.02 708.5,371.01 709.0,371.01 709.5,371.00 710.0,371.00 710.5,371.00 711.0,371.00 711.5,371.00 712.0,371.00 712.5,371.00 713.0,371.00 713.5,371.00 714.0,371.00 714.5,371.00 715.0,371.00 715.5,371.00 716.0,371.00 716.5,371.00 717.0,371.00 717.5,371.00 718.0,371.00 718.5,371.00 719.0,371.00 719.5,371.00 720.0,371.00 720.5,371.00 721.0,371.00 721.5,371.00 722.0,371.00 722.5,371.00 723.0,371.00 723.5,371.00 724.0,371.00 724.5,371.00 725.0,371.00 725.5,371.00 726.0,371.00 726.5,371.00 727.0,371.00 727.5,371.00 728.0,371.00 728.5,371.00 729.0,371.00 729.5,371.00 730.0,371.00 730.5,370.99 731.0,370.99 731.5,370.98 732.0,370.97 732.5,370.96 733.0,370.93 733.5,370.90 734.0,370.86 734.5,370.81 735.0,370.75 735.5,370.68 736.0,370.59 736.5,370.49 737.0,370.39 737.5,370.29 738.0,370.20 738.5,370.12 739.0,370.05 739.5,370.01 740.0,370.00 740.5,370.01 741.0,370.05 741.5,370.12 742.0,370.20 742.5,370.29 743.0,370.39 743.5,370.49 744.0,370.59 744.5,370.67 745.0,370.75 745.5,370.81 746.0,370.86 746.5,370.90 747.0,370.93 747.5,370.95 748.0,370.97 748.5,370.98 749.0,370.98 749.5,370.99 750.0,370.99 750.5,370.99 751.0,370.99 751.5,370.98 752.0,370.98 752.5,370.98 753.0,370.97 753.5,370.97 754.0,370.96 754.5,370.95 755.0,370.95 755.5,370.94 756.0,370.93 756.5,370.92 757.0,370.90 757.5,370.89 758.0,370.87 758.5,370.86 759.0,370.84 759.5,370.82 760.0,370.79 760.5,370.77 761.0,370.74 761.5,370.71 762.0,370.68 762.5,370.65 763.0,370.61 763.5,370.57 764.0,370.53 764.5,370.49 765.0,370.45 765.5,370.41 766.0,370.36 766.5,370.32 767.0,370.27 767.5,370.23 768.0,370.18 768.5,370.14 769.0,370.09 769.5,370.05 770.0,370.01 770.5,369.98 771.0,369.94 771.5,369.91 772.0,369.88 772.5,369.86 773.0,369.84 773.5,369.82 774.0,369.81 774.5,369.80 775.0,369.80 775.5,369.80 776.0,369.81 776.5,369.82 777.0,369.84 777.5,369.86 778.0,369.88 778.5,369.91 779.0,369.94 779.5,369.98 780.0,370.01 780.5,370.05 781.0,370.09 781.5,370.14 782.0,370.18 782.5,370.23 783.0,370.27 783.5,370.32 784.0,370.36 784.5,370.41 785.0,370.45 785.5,370.49 786.0,370.53 786.5,370.57 787.0,370.61 787.5,370.65 788.0,370.69 788.5,370.79 789.0,371.06 789.5,371.62 790.0,372.30 790.5,372.57 791.0,372.07 791.5,371.17 792.0,370.42 792.5,370.03 793.0,369.92 793.5,369.97 794.0,370.13 794.5,370.33 795.0,370.54 795.5,370.71 796.0,370.83 796.5,370.90 797.0,370.94 797.5,370.97 798.0,370.98 798.5,370.98 799.0,370.99 799.5,370.99 800.0,370.99 800.5,370.99 801.0,371.00 801.5,371.00 802.0,371.00 802.5,371.00 803.0,371.01 803.5,371.01 804.0,371.01 804.5,371.02 805.0,371.03 805.5,371.03 806.0,371.04 806.5,371.06 807.0,371.07 807.5,371.09 808.0,371.11 808.5,371.13 809.0,371.16 809.5,371.19 810.0,371.22 810.5,371.26 811.0,371.30 811.5,371.34 812.0,371.39 812.5,371.44 813.0,371.49 813.5,371.53 814.0,371.58 814.5,371.63 815.0,371.67 815.5,371.71 816.0,371.74 816.5,371.76 817.0,371.78 817.5,371.80 818.0,371.80 818.5,371.80 819.0,371.78 819.5,371.76 820.0,371.74 820.5,371.71 821.0,371.67 821.5,371.63 822.0,371.58 822.5,371.53 823.0,371.48 823.5,371.44 824.0,371.39 824.5,371.34 825.0,371.30 825.5,371.25 826.0,371.21 826.5,371.18 827.0,371.14 827.5,371.11 828.0,371.08 828.5,371.05 829.0,371.02 829.5,370.99 830.0,370.96 830.5,370.93 831.0,370.89 831.5,370.86 832.0,370.81 832.5,370.77 833.0,370.71 833.5,370.65 834.0,370.59 834.5,370.52 835.0,370.44 835.5,370.36 836.0,370.27 836.5,370.18 837.0,370.09 837.5,370.00 838.0,369.91 838.5,369.83 839.0,369.75 839.5,369.68 840.0,369.62 840.5,369.57 841.0,369.53 841.5,369.51 842.0,369.50 842.5,369.51 843.0,369.53 843.5,369.57 844.0,369.62 844.5,369.68 845.0,369.75 845.5,369.83 846.0,369.91 846.5,370.00 847.0,370.09 847.5,370.18 848.0,370.27 848.5,370.36 849.0,370.44 849.5,370.51" fill="none" stroke="#080808" stroke-width="2.1" stroke-linejoin="round" stroke-linecap="round"/>
<text transform="translate(875.67 366.60) scale(0.9389 1)" font-size="26.38" font-weight="bold" fill="#080808" xml:space="preserve">Fr. EV-II+alogliptin</text>
<polyline points="617.0,437.50 617.5,437.50 618.0,437.50 618.5,437.50 619.0,437.50 619.5,437.50 620.0,437.50 620.5,437.50 621.0,437.50 621.5,437.50 622.0,437.50 622.5,437.50 623.0,437.50 623.5,437.50 624.0,437.50 624.5,437.50 625.0,437.50 625.5,437.50 626.0,437.50 626.5,437.50 627.0,437.50 627.5,437.50 628.0,437.50 628.5,437.50 629.0,437.50 629.5,437.50 630.0,437.50 630.5,437.50 631.0,437.50 631.5,437.50 632.0,437.50 632.5,437.50 633.0,437.50 633.5,437.50 634.0,437.50 634.5,437.50 635.0,437.50 635.5,437.50 636.0,437.50 636.5,437.50 637.0,437.49 637.5,437.49 638.0,437.49 638.5,437.48 639.0,437.47 639.5,437.46 640.0,437.45 640.5,437.43 641.0,437.40 641.5,437.37 642.0,437.34 642.5,437.29 643.0,437.24 643.5,437.18 644.0,437.11 644.5,437.04 645.0,436.95 645.5,436.87 646.0,436.78 646.5,436.69 647.0,436.60 647.5,436.53 648.0,436.46 648.5,436.40 649.0,436.37 649.5,436.35 650.0,436.35 650.5,436.38 651.0,436.42 651.5,436.49 652.0,436.57 652.5,436.68 653.0,436.80 653.5,436.93 654.0,437.07 654.5,437.22 655.0,437.37 655.5,437.52 656.0,437.67 656.5,437.82 657.0,437.97 657.5,438.11 658.0,438.25 658.5,438.37 659.0,438.49 659.5,438.60 660.0,438.70 660.5,438.79 661.0,438.86 661.5,438.91 662.0,438.96 662.5,438.98 663.0,439.00 663.5,438.99 664.0,438.97 664.5,438.94 665.0,438.89 665.5,438.84 666.0,438.78 666.5,438.72 667.0,438.65 667.5,438.60 668.0,438.55 668.5,438.51 669.0,438.48 669.5,438.47 670.0,438.47 670.5,438.49 671.0,438.52 671.5,438.56 672.0,438.60 672.5,438.63 673.0,438.65 673.5,438.65 674.0,438.63 674.5,438.59 675.0,438.53 675.5,438.45 676.0,438.35 676.5,438.25 677.0,438.14 677.5,438.03 678.0,437.93 678.5,437.83 679.0,437.75 679.5,437.68 680.0,437.61 680.5,437.55 681.0,437.47 681.5,437.36 682.0,437.19 682.5,436.95 683.0,436.59 683.5,436.09 684.0,435.39 684.5,434.50 685.0,433.42 685.5,432.18 686.0,430.86 686.5,429.57 687.0,428.42 687.5,427.55 688.0,427.05 688.5,426.99 689.0,427.37 689.5,428.12 690.0,429.17 690.5,430.36 691.0,431.59 691.5,432.72 692.0,433.68 692.5,434.42 693.0,434.93 693.5,435.23 694.0,435.36 694.5,435.36 695.0,435.29 695.5,435.18 696.0,435.08 696.5,435.01 697.0,434.99 697.5,435.04 698.0,435.15 698.5,435.33 699.0,435.55 699.5,435.82 700.0,436.12 700.5,436.43 701.0,436.74 701.5,437.06 702.0,437.38 702.5,437.68 703.0,437.98 703.5,438.27 704.0,438.55 704.5,438.80 705.0,439.03 705.5,439.22 706.0,439.36 706.5,439.45 707.0,439.49 707.5,439.46 708.0,439.38 708.5,439.24 709.0,439.06 709.5,438.83 710.0,438.58 710.5,438.29 711.0,437.97 711.5,437.62 712.0,437.21 712.5,436.76 713.0,436.24 713.5,435.67 714.0,435.06 714.5,434.44 715.0,433.84 715.5,433.31 716.0,432.89 716.5,432.61 717.0,432.52 717.5,432.61 718.0,432.88 718.5,433.29 719.0,433.81 719.5,434.39 720.0,434.97 720.5,435.53 721.0,436.03 721.5,436.46 722.0,436.81 722.5,437.08 723.0,437.29 723.5,437.44 724.0,437.55 724.5,437.64 725.0,437.71 725.5,437.76 726.0,437.81 726.5,437.86 727.0,437.91 727.5,437.96 728.0,438.01 728.5,438.06 729.0,438.11 729.5,438.16 730.0,438.21 730.5,438.25 731.0,438.30 731.5,438.34 732.0,438.38 732.5,438.42 733.0,438.45 733.5,438.47 734.0,438.49 734.5,438.50 735.0,438.50 735.5,438.50 736.0,438.49 736.5,438.47 737.0,438.45 737.5,438.42 738.0,438.38 738.5,438.34 739.0,438.30 739.5,438.25 740.0,438.21 740.5,438.16 741.0,438.11 741.5,438.06 742.0,438.01 742.5,437.96 743.0,437.91 743.5,437.87 744.0,437.82 744.5,437.79 745.0,437.75 745.5,437.72 746.0,437.69 746.5,437.66 747.0,437.64 747.5,437.61 748.0,437.60 748.5,437.58 749.0,437.57 749.5,437.55 750.0,437.54 750.5,437.54 751.0,437.53 751.5,437.52 752.0,437.52 752.5,437.51 753.0,437.51 753.5,437.51 754.0,437.51 754.5,437.50 755.0,437.50 755.5,437.50 756.0,437.50 756.5,437.50 757.0,437.50 757.5,437.50 758.0,437.50 758.5,437.50 759.0,437.50 759.5,437.50 760.0,437.50 760.5,437.50 761.0,437.49 761.5,437.49 762.0,437.49 762.5,437.49 763.0,437.49 763.5,437.48 764.0,437.48 764.5,437.47 765.0,437.46 765.5,437.46 766.0,437.45 766.5,437.44 767.0,437.42 767.5,437.41 768.0,437.39 768.5,437.37 769.0,437.35 769.5,437.33 770.0,437.30 770.5,437.27 771.0,437.24 771.5,437.21 772.0,437.17 772.5,437.13 773.0,437.09 773.5,437.05 774.0,437.01 774.5,436.97 775.0,436.93 775.5,436.89 776.0,436.86 776.5,436.82 777.0,436.79 777.5,436.75 778.0,436.73 778.5,436.70 779.0,436.68 779.5,436.65 780.0,436.63 780.5,436.61 781.0,436.58 781.5,436.55 782.0,436.51 782.5,436.47 783.0,436.41 783.5,436.33 784.0,436.24 784.5,436.11 785.0,435.96 785.5,435.75 786.0,435.47 786.5,435.09 787.0,434.55 787.5,433.78 788.0,432.70 788.5,431.22 789.0,429.27 789.5,426.80 790.0,423.85 790.5,420.56 791.0,417.16 791.5,413.97 792.0,411.35 792.5,409.62 793.0,409.03 793.5,409.35 794.0,410.29 794.5,411.76 795.0,413.67 795.5,415.90 796.0,418.31 796.5,420.80 797.0,423.23 797.5,425.52 798.0,427.61 798.5,429.45 799.0,431.05 799.5,432.39 800.0,433.51 800.5,434.42 801.0,435.16 801.5,435.75 802.0,436.22 802.5,436.58 803.0,436.86 803.5,437.06 804.0,437.21 804.5,437.32 805.0,437.38 805.5,437.42 806.0,437.44 806.5,437.44 807.0,437.44 807.5,437.43 808.0,437.42 808.5,437.42 809.0,437.41 809.5,437.40 810.0,437.40 810.5,437.39 811.0,437.38 811.5,437.37 812.0,437.35 812.5,437.33 813.0,437.30 813.5,437.27 814.0,437.22 814.5,437.18 815.0,437.12 815.5,437.07 816.0,437.01 816.5,436.95 817.0,436.89 817.5,436.84 818.0,436.79 818.5,436.75 819.0,436.72 819.5,436.71 820.0,436.70 820.5,436.71 821.0,436.72 821.5,436.75 822.0,436.79 822.5,436.84 823.0,436.90 823.5,436.95 824.0,437.01 824.5,437.08 825.0,437.13 825.5,437.19 826.0,437.24 826.5,437.29 827.0,437.33 827.5,437.36 828.0,437.39 828.5,437.42 829.0,437.44 829.5,437.45 830.0,437.46 830.5,437.47 831.0,437.48 831.5,437.49 832.0,437.49 832.5,437.49 833.0,437.50 833.5,437.50 834.0,437.50 834.5,437.50 835.0,437.50 835.5,437.50 836.0,437.50 836.5,437.50 837.0,437.50 837.5,437.50 838.0,437.50 838.5,437.50 839.0,437.50 839.5,437.50 840.0,437.50 840.5,437.50 841.0,437.50 841.5,437.50 842.0,437.50 842.5,437.50 843.0,437.50 843.5,437.50 844.0,437.50 844.5,437.50 845.0,437.50 845.5,437.50 846.0,437.50 846.5,437.50 847.0,437.50 847.5,437.50 848.0,437.50 848.5,437.50 849.0,437.50 849.5,437.50" fill="none" stroke="#080808" stroke-width="2.1" stroke-linejoin="round" stroke-linecap="round"/>
<text transform="translate(875.66 435.40) scale(0.9403 1)" font-size="26.38" font-weight="bold" fill="#080808" xml:space="preserve">Fr. EV-II+amastatin</text>
<polyline points="618.0,530.00 618.5,530.00 619.0,530.00 619.5,530.00 620.0,530.00 620.5,530.00 621.0,530.00 621.5,530.00 622.0,530.00 622.5,530.00 623.0,530.00 623.5,530.00 624.0,530.00 624.5,530.00 625.0,530.00 625.5,530.00 626.0,530.00 626.5,530.00 627.0,530.00 627.5,530.00 628.0,530.00 628.5,530.00 629.0,530.00 629.5,530.00 630.0,530.00 630.5,530.00 631.0,530.00 631.5,530.00 632.0,530.00 632.5,530.00 633.0,530.00 633.5,530.00 634.0,530.00 634.5,530.00 635.0,530.00 635.5,530.00 636.0,530.00 636.5,530.00 637.0,530.00 637.5,530.00 638.0,530.00 638.5,530.00 639.0,530.00 639.5,530.00 640.0,530.00 640.5,530.00 641.0,530.00 641.5,530.00 642.0,530.00 642.5,530.00 643.0,530.00 643.5,530.00 644.0,530.00 644.5,530.00 645.0,530.00 645.5,530.00 646.0,530.00 646.5,530.00 647.0,530.00 647.5,530.00 648.0,530.00 648.5,530.00 649.0,530.00 649.5,530.00 650.0,530.00 650.5,530.00 651.0,530.00 651.5,530.00 652.0,530.00 652.5,530.00 653.0,530.00 653.5,530.00 654.0,530.00 654.5,530.00 655.0,530.00 655.5,530.00 656.0,530.00 656.5,530.00 657.0,530.00 657.5,530.00 658.0,530.00 658.5,530.00 659.0,530.00 659.5,530.00 660.0,530.00 660.5,530.00 661.0,530.00 661.5,530.00 662.0,530.00 662.5,530.00 663.0,530.00 663.5,530.00 664.0,530.00 664.5,530.00 665.0,530.00 665.5,530.00 666.0,530.00 666.5,530.00 667.0,530.00 667.5,530.00 668.0,530.00 668.5,530.00 669.0,530.00 669.5,530.00 670.0,530.00 670.5,530.00 671.0,530.00 671.5,530.00 672.0,530.00 672.5,530.00 673.0,529.99 673.5,529.99 674.0,529.98 674.5,529.97 675.0,529.96 675.5,529.94 676.0,529.91 676.5,529.87 677.0,529.82 677.5,529.75 678.0,529.65 678.5,529.52 679.0,529.36 679.5,529.15 680.0,528.88 680.5,528.55 681.0,528.13 681.5,527.58 682.0,526.85 682.5,525.81 683.0,524.32 683.5,522.16 684.0,519.08 684.5,514.87 685.0,509.43 685.5,502.89 686.0,495.68 686.5,488.53 687.0,482.41 687.5,478.26 688.0,476.79 688.5,477.73 689.0,480.45 689.5,484.64 690.0,489.85 690.5,495.58 691.0,501.34 691.5,506.74 692.0,511.50 692.5,515.49 693.0,518.67 693.5,521.12 694.0,522.94 694.5,524.28 695.0,525.25 695.5,525.96 696.0,526.51 696.5,526.94 697.0,527.31 697.5,527.64 698.0,527.94 698.5,528.21 699.0,528.48 699.5,528.72 700.0,528.94 700.5,529.14 701.0,529.32 701.5,529.47 702.0,529.59 702.5,529.70 703.0,529.78 703.5,529.84 704.0,529.89 704.5,529.92 705.0,529.95 705.5,529.97 706.0,529.98 706.5,529.98 707.0,529.99 707.5,529.98 708.0,529.98 708.5,529.96 709.0,529.92 709.5,529.87 710.0,529.77 710.5,529.63 711.0,529.41 711.5,529.09 712.0,528.66 712.5,528.10 713.0,527.40 713.5,526.57 714.0,525.63 714.5,524.65 715.0,523.68 715.5,522.80 716.0,522.11 716.5,521.66 717.0,521.50 717.5,521.66 718.0,522.11 718.5,522.81 719.0,523.69 719.5,524.66 720.0,525.66 720.5,526.61 721.0,527.46 721.5,528.19 722.0,528.80 722.5,529.28 723.0,529.66 723.5,529.95 724.0,530.18 724.5,530.37 725.0,530.53 725.5,530.66 726.0,530.78 726.5,530.87 727.0,530.94 727.5,530.98 728.0,530.99 728.5,530.97 729.0,530.92 729.5,530.85 730.0,530.76 730.5,530.65 731.0,530.53 731.5,530.40 732.0,530.28 732.5,530.15 733.0,530.03 733.5,529.92 734.0,529.81 734.5,529.71 735.0,529.61 735.5,529.51 736.0,529.42 736.5,529.34 737.0,529.26 737.5,529.18 738.0,529.12 738.5,529.07 739.0,529.03 739.5,529.01 740.0,529.00 740.5,529.01 741.0,529.03 741.5,529.06 742.0,529.11 742.5,529.17 743.0,529.24 743.5,529.31 744.0,529.39 744.5,529.46 745.0,529.53 745.5,529.60 746.0,529.66 746.5,529.72 747.0,529.76 747.5,529.80 748.0,529.84 748.5,529.87 749.0,529.89 749.5,529.90 750.0,529.91 750.5,529.92 751.0,529.92 751.5,529.92 752.0,529.92 752.5,529.91 753.0,529.91 753.5,529.90 754.0,529.89 754.5,529.88 755.0,529.86 755.5,529.85 756.0,529.84 756.5,529.82 757.0,529.80 757.5,529.78 758.0,529.76 758.5,529.74 759.0,529.72 759.5,529.70 760.0,529.68 760.5,529.65 761.0,529.62 761.5,529.60 762.0,529.57 762.5,529.54 763.0,529.51 763.5,529.48 764.0,529.45 764.5,529.42 765.0,529.39 765.5,529.36 766.0,529.33 766.5,529.30 767.0,529.27 767.5,529.25 768.0,529.22 768.5,529.19 769.0,529.16 769.5,529.14 770.0,529.12 770.5,529.10 771.0,529.08 771.5,529.06 772.0,529.04 772.5,529.03 773.0,529.02 773.5,529.01 774.0,529.00 774.5,529.00 775.0,529.00 775.5,529.00 776.0,529.00 776.5,529.01 777.0,529.02 777.5,529.03 778.0,529.04 778.5,529.06 779.0,529.08 779.5,529.10 780.0,529.12 780.5,529.14 781.0,529.16 781.5,529.19 782.0,529.22 782.5,529.25 783.0,529.27 783.5,529.30 784.0,529.33 784.5,529.36 785.0,529.39 785.5,529.42 786.0,529.45 786.5,529.48 787.0,529.51 787.5,529.54 788.0,529.57 788.5,529.60 789.0,529.62 789.5,529.65 790.0,529.68 790.5,529.70 791.0,529.72 791.5,529.74 792.0,529.76 792.5,529.78 793.0,529.80 793.5,529.82 794.0,529.84 794.5,529.85 795.0,529.86 795.5,529.88 796.0,529.89 796.5,529.90 797.0,529.91 797.5,529.92 798.0,529.93 798.5,529.94 799.0,529.95 799.5,529.96 800.0,529.96 800.5,529.97 801.0,529.98 801.5,529.99 802.0,530.00 802.5,530.01 803.0,530.03 803.5,530.04 804.0,530.06 804.5,530.08 805.0,530.10 805.5,530.12 806.0,530.15 806.5,530.18 807.0,530.22 807.5,530.25 808.0,530.30 808.5,530.34 809.0,530.39 809.5,530.43 810.0,530.48 810.5,530.53 811.0,530.58 811.5,530.62 812.0,530.67 812.5,530.71 813.0,530.74 813.5,530.76 814.0,530.78 814.5,530.80 815.0,530.80 815.5,530.80 816.0,530.78 816.5,530.76 817.0,530.74 817.5,530.70 818.0,530.67 818.5,530.62 819.0,530.57 819.5,530.53 820.0,530.47 820.5,530.42 821.0,530.37 821.5,530.32 822.0,530.27 822.5,530.22 823.0,530.17 823.5,530.12 824.0,530.07 824.5,530.02 825.0,529.97 825.5,529.92 826.0,529.87 826.5,529.82 827.0,529.77 827.5,529.71 828.0,529.65 828.5,529.59 829.0,529.53 829.5,529.47 830.0,529.40 830.5,529.34 831.0,529.28 831.5,529.22 832.0,529.17 832.5,529.12 833.0,529.08 833.5,529.04 834.0,529.02 834.5,529.01 835.0,529.00 835.5,529.01 836.0,529.02 836.5,529.04 837.0,529.08 837.5,529.12 838.0,529.16 838.5,529.22 839.0,529.27 839.5,529.33 840.0,529.39 840.5,529.45 841.0,529.51 841.5,529.57 842.0,529.62 842.5,529.68 843.0,529.72 843.5,529.76 844.0,529.80 844.5,529.84 845.0,529.86 845.5,529.89 846.0,529.91 846.5,529.93 847.0,529.94 847.5,529.96 848.0,529.97" fill="none" stroke="#080808" stroke-width="2.1" stroke-linejoin="round" stroke-linecap="round"/>
<text transform="translate(875.63 526.80) scale(0.9566 1)" font-size="26.38" font-weight="bold" fill="#080808" xml:space="preserve">Fr. EV-I</text>
<polyline points="618.0,642.80 618.5,642.80 619.0,642.80 619.5,642.80 620.0,642.80 620.5,642.80 621.0,642.80 621.5,642.80 622.0,642.80 622.5,642.80 623.0,642.80 623.5,642.80 624.0,642.80 624.5,642.80 625.0,642.81 625.5,642.81 626.0,642.81 626.5,642.81 627.0,642.81 627.5,642.82 628.0,642.82 628.5,642.82 629.0,642.83 629.5,642.83 630.0,642.84 630.5,642.84 631.0,642.85 631.5,642.86 632.0,642.86 632.5,642.87 633.0,642.88 633.5,642.90 634.0,642.91 634.5,642.92 635.0,642.94 635.5,642.95 636.0,642.97 636.5,642.99 637.0,643.01 637.5,643.04 638.0,643.06 638.5,643.08 639.0,643.11 639.5,643.14 640.0,643.17 640.5,643.20 641.0,643.22 641.5,643.25 642.0,643.29 642.5,643.32 643.0,643.35 643.5,643.38 644.0,643.40 644.5,643.43 645.0,643.46 645.5,643.48 646.0,643.51 646.5,643.53 647.0,643.55 647.5,643.56 648.0,643.58 648.5,643.59 649.0,643.59 649.5,643.60 650.0,643.60 650.5,643.60 651.0,643.59 651.5,643.59 652.0,643.58 652.5,643.56 653.0,643.55 653.5,643.53 654.0,643.51 654.5,643.48 655.0,643.46 655.5,643.43 656.0,643.40 656.5,643.38 657.0,643.35 657.5,643.32 658.0,643.29 658.5,643.25 659.0,643.22 659.5,643.20 660.0,643.17 660.5,643.14 661.0,643.11 661.5,643.08 662.0,643.06 662.5,643.04 663.0,643.01 663.5,642.99 664.0,642.97 664.5,642.95 665.0,642.94 665.5,642.92 666.0,642.91 666.5,642.90 667.0,642.88 667.5,642.87 668.0,642.86 668.5,642.86 669.0,642.85 669.5,642.84 670.0,642.83 670.5,642.83 671.0,642.82 671.5,642.82 672.0,642.81 672.5,642.81 673.0,642.80 673.5,642.79 674.0,642.78 674.5,642.76 675.0,642.74 675.5,642.71 676.0,642.66 676.5,642.60 677.0,642.51 677.5,642.39 678.0,642.24 678.5,642.04 679.0,641.78 679.5,641.46 680.0,641.05 680.5,640.54 681.0,639.88 681.5,639.02 682.0,637.83 682.5,636.15 683.0,633.71 683.5,630.19 684.0,625.24 684.5,618.61 685.0,610.28 685.5,600.58 686.0,590.30 686.5,580.64 687.0,572.98 687.5,568.55 688.0,568.02 688.5,570.39 689.0,575.13 689.5,581.73 690.0,589.49 690.5,597.72 691.0,605.76 691.5,613.13 692.0,619.52 692.5,624.80 693.0,629.00 693.5,632.23 694.0,634.67 694.5,636.50 695.0,637.87 695.5,638.92 696.0,639.74 696.5,640.41 697.0,640.97 697.5,641.44 698.0,641.83 698.5,642.16 699.0,642.44 699.5,642.66 700.0,642.82 700.5,642.95 701.0,643.02 701.5,643.07 702.0,643.08 702.5,643.08 703.0,643.06 703.5,643.03 704.0,642.99 704.5,642.96 705.0,642.92 705.5,642.90 706.0,642.88 706.5,642.86 707.0,642.86 707.5,642.86 708.0,642.87 708.5,642.89 709.0,642.91 709.5,642.95 710.0,643.00 710.5,643.06 711.0,643.13 711.5,643.20 712.0,643.28 712.5,643.36 713.0,643.44 713.5,643.50 714.0,643.55 714.5,643.59 715.0,643.60 715.5,643.59 716.0,643.55 716.5,643.50 717.0,643.44 717.5,643.36 718.0,643.28 718.5,643.20 719.0,643.12 719.5,643.05 720.0,642.99 720.5,642.94 721.0,642.91 721.5,642.89 722.0,642.89 722.5,642.93 723.0,642.99 723.5,643.10 724.0,643.26 724.5,643.45 725.0,643.66 725.5,643.87 726.0,644.06 726.5,644.18 727.0,644.22 727.5,644.16 728.0,644.02 728.5,643.81 729.0,643.58 729.5,643.34 730.0,643.12 730.5,642.95 731.0,642.81 731.5,642.70 732.0,642.63 732.5,642.57 733.0,642.53 733.5,642.50 734.0,642.47 734.5,642.44 735.0,642.41 735.5,642.38 736.0,642.35 736.5,642.32 737.0,642.28 737.5,642.25 738.0,642.22 738.5,642.18 739.0,642.14 739.5,642.11 740.0,642.07 740.5,642.04 741.0,642.00 741.5,641.96 742.0,641.93 742.5,641.89 743.0,641.86 743.5,641.83 744.0,641.80 744.5,641.77 745.0,641.74 745.5,641.72 746.0,641.69 746.5,641.67 747.0,641.65 747.5,641.64 748.0,641.62 748.5,641.61 749.0,641.61 749.5,641.60 750.0,641.60 750.5,641.60 751.0,641.61 751.5,641.61 752.0,641.62 752.5,641.64 753.0,641.65 753.5,641.67 754.0,641.69 754.5,641.72 755.0,641.74 755.5,641.77 756.0,641.80 756.5,641.83 757.0,641.86 757.5,641.89 758.0,641.93 758.5,641.96 759.0,642.00 759.5,642.04 760.0,642.07 760.5,642.11 761.0,642.14 761.5,642.18 762.0,642.22 762.5,642.25 763.0,642.29 763.5,642.32 764.0,642.35 764.5,642.38 765.0,642.42 765.5,642.45 766.0,642.48 766.5,642.51 767.0,642.54 767.5,642.58 768.0,642.62 768.5,642.65 769.0,642.70 769.5,642.75 770.0,642.80 770.5,642.86 771.0,642.93 771.5,643.00 772.0,643.08 772.5,643.17 773.0,643.26 773.5,643.36 774.0,643.46 774.5,643.56 775.0,643.65 775.5,643.74 776.0,643.82 776.5,643.88 777.0,643.93 777.5,643.96 778.0,643.98 778.5,643.97 779.0,643.94 779.5,643.90 780.0,643.84 780.5,643.77 781.0,643.69 781.5,643.60 782.0,643.51 782.5,643.42 783.0,643.33 783.5,643.24 784.0,643.16 784.5,643.09 785.0,643.02 785.5,642.96 786.0,642.91 786.5,642.86 787.0,642.82 787.5,642.78 788.0,642.74 788.5,642.71 789.0,642.68 789.5,642.65 790.0,642.61 790.5,642.58 791.0,642.55 791.5,642.51 792.0,642.47 792.5,642.44 793.0,642.40 793.5,642.36 794.0,642.32 794.5,642.27 795.0,642.23 795.5,642.20 796.0,642.16 796.5,642.13 797.0,642.09 797.5,642.07 798.0,642.04 798.5,642.02 799.0,642.01 799.5,642.00 800.0,642.00 800.5,642.00 801.0,642.01 801.5,642.02 802.0,642.04 802.5,642.07 803.0,642.09 803.5,642.13 804.0,642.16 804.5,642.20 805.0,642.23 805.5,642.27 806.0,642.32 806.5,642.36 807.0,642.40 807.5,642.43 808.0,642.47 808.5,642.51 809.0,642.54 809.5,642.57 810.0,642.60 810.5,642.63 811.0,642.66 811.5,642.68 812.0,642.70 812.5,642.72 813.0,642.74 813.5,642.75 814.0,642.77 814.5,642.79 815.0,642.80 815.5,642.81 816.0,642.83 816.5,642.85 817.0,642.86 817.5,642.88 818.0,642.90 818.5,642.92 819.0,642.94 819.5,642.97 820.0,643.00 820.5,643.03 821.0,643.06 821.5,643.09 822.0,643.13 822.5,643.17 823.0,643.20 823.5,643.24 824.0,643.28 824.5,643.33 825.0,643.37 825.5,643.40 826.0,643.44 826.5,643.47 827.0,643.51 827.5,643.53 828.0,643.56 828.5,643.58 829.0,643.59 829.5,643.60 830.0,643.60 830.5,643.60 831.0,643.59 831.5,643.58 832.0,643.56 832.5,643.53 833.0,643.51 833.5,643.47 834.0,643.44 834.5,643.40 835.0,643.36 835.5,643.32 836.0,643.27 836.5,643.23 837.0,643.18 837.5,643.12 838.0,643.06 838.5,643.00 839.0,642.92 839.5,642.84 840.0,642.75 840.5,642.65 841.0,642.54 841.5,642.42 842.0,642.30 842.5,642.18 843.0,642.08 843.5,641.98 844.0,641.91 844.5,641.86 845.0,641.84 845.5,641.84 846.0,641.88 846.5,641.94 847.0,642.01 847.5,642.10" fill="none" stroke="#080808" stroke-width="2.1" stroke-linejoin="round" stroke-linecap="round"/>
<text transform="translate(875.67 639.40) scale(0.9375 1)" font-size="26.38" font-weight="bold" fill="#080808" xml:space="preserve">Fr. EV-I+alogliptin</text>
<polyline points="617.5,753.00 618.0,753.00 618.5,753.00 619.0,753.00 619.5,753.00 620.0,753.00 620.5,753.00 621.0,753.00 621.5,753.00 622.0,753.00 622.5,753.00 623.0,753.00 623.5,753.00 624.0,753.00 624.5,753.00 625.0,753.00 625.5,753.00 626.0,753.00 626.5,753.00 627.0,753.00 627.5,753.00 628.0,753.00 628.5,753.00 629.0,753.00 629.5,753.00 630.0,753.00 630.5,753.00 631.0,753.00 631.5,753.00 632.0,753.00 632.5,753.00 633.0,753.00 633.5,753.00 634.0,753.00 634.5,753.00 635.0,753.00 635.5,753.00 636.0,753.00 636.5,753.00 637.0,753.00 637.5,753.00 638.0,753.00 638.5,753.00 639.0,753.00 639.5,753.00 640.0,753.00 640.5,753.00 641.0,753.00 641.5,753.00 642.0,753.00 642.5,753.00 643.0,753.00 643.5,753.00 644.0,753.00 644.5,753.00 645.0,753.00 645.5,753.00 646.0,753.00 646.5,753.00 647.0,753.00 647.5,753.00 648.0,753.00 648.5,753.00 649.0,753.00 649.5,753.00 650.0,753.00 650.5,753.00 651.0,753.00 651.5,753.00 652.0,753.00 652.5,753.00 653.0,753.00 653.5,753.00 654.0,753.00 654.5,753.00 655.0,753.00 655.5,753.00 656.0,753.00 656.5,753.00 657.0,753.00 657.5,753.00 658.0,753.00 658.5,753.00 659.0,753.00 659.5,753.00 660.0,753.00 660.5,753.00 661.0,753.00 661.5,753.00 662.0,753.00 662.5,753.00 663.0,753.00 663.5,753.00 664.0,753.00 664.5,753.00 665.0,753.00 665.5,753.00 666.0,753.00 666.5,753.00 667.0,753.00 667.5,753.00 668.0,753.00 668.5,753.00 669.0,753.00 669.5,753.00 670.0,753.00 670.5,753.00 671.0,753.00 671.5,753.00 672.0,753.00 672.5,752.99 673.0,752.99 673.5,752.98 674.0,752.97 674.5,752.96 675.0,752.93 675.5,752.90 676.0,752.86 676.5,752.80 677.0,752.73 677.5,752.62 678.0,752.49 678.5,752.31 679.0,752.09 679.5,751.81 680.0,751.46 680.5,751.02 681.0,750.48 681.5,749.78 682.0,748.85 682.5,747.56 683.0,745.74 683.5,743.14 684.0,739.48 684.5,734.49 685.0,728.01 685.5,720.10 686.0,711.14 686.5,701.86 687.0,693.28 687.5,686.55 688.0,682.68 688.5,682.17 689.0,684.16 689.5,688.22 690.0,693.92 690.5,700.72 691.0,708.02 691.5,715.28 692.0,722.05 692.5,728.04 693.0,733.09 693.5,737.18 694.0,740.37 694.5,742.80 695.0,744.62 695.5,745.96 696.0,746.95 696.5,747.70 697.0,748.27 697.5,748.73 698.0,749.10 698.5,749.41 699.0,749.68 699.5,749.91 700.0,750.12 700.5,750.30 701.0,750.47 701.5,750.62 702.0,750.77 702.5,750.90 703.0,751.03 703.5,751.16 704.0,751.29 704.5,751.41 705.0,751.52 705.5,751.64 706.0,751.75 706.5,751.86 707.0,751.97 707.5,752.07 708.0,752.17 708.5,752.26 709.0,752.34 709.5,752.40 710.0,752.44 710.5,752.43 711.0,752.34 711.5,752.11 712.0,751.66 712.5,750.89 713.0,749.68 713.5,747.97 714.0,745.73 714.5,743.08 715.0,740.23 715.5,737.54 716.0,735.39 716.5,734.15 717.0,734.04 717.5,735.08 718.0,737.08 718.5,739.71 719.0,742.57 719.5,745.30 720.0,747.64 720.5,749.48 721.0,750.80 721.5,751.68 722.0,752.21 722.5,752.50 723.0,752.64 723.5,752.69 724.0,752.69 724.5,752.66 725.0,752.62 725.5,752.57 726.0,752.51 726.5,752.45 727.0,752.38 727.5,752.31 728.0,752.24 728.5,752.17 729.0,752.09 729.5,752.02 730.0,751.94 730.5,751.87 731.0,751.80 731.5,751.74 732.0,751.68 732.5,751.63 733.0,751.58 733.5,751.55 734.0,751.53 734.5,751.51 735.0,751.51 735.5,751.51 736.0,751.53 736.5,751.56 737.0,751.60 737.5,751.64 738.0,751.70 738.5,751.76 739.0,751.83 739.5,751.90 740.0,751.98 740.5,752.06 741.0,752.15 741.5,752.23 742.0,752.32 742.5,752.40 743.0,752.48 743.5,752.57 744.0,752.64 744.5,752.72 745.0,752.80 745.5,752.87 746.0,752.94 746.5,753.00 747.0,753.07 747.5,753.13 748.0,753.19 748.5,753.25 749.0,753.31 749.5,753.37 750.0,753.43 750.5,753.49 751.0,753.55 751.5,753.62 752.0,753.68 752.5,753.74 753.0,753.81 753.5,753.87 754.0,753.94 754.5,754.01 755.0,754.07 755.5,754.14 756.0,754.21 756.5,754.28 757.0,754.35 757.5,754.41 758.0,754.48 758.5,754.54 759.0,754.60 759.5,754.66 760.0,754.71 760.5,754.77 761.0,754.81 761.5,754.86 762.0,754.89 762.5,754.93 763.0,754.95 763.5,754.98 764.0,754.99 764.5,755.00 765.0,755.01 765.5,755.01 766.0,755.00 766.5,754.99 767.0,754.98 767.5,754.96 768.0,754.94 768.5,754.91 769.0,754.88 769.5,754.85 770.0,754.82 770.5,754.79 771.0,754.76 771.5,754.73 772.0,754.70 772.5,754.67 773.0,754.65 773.5,754.62 774.0,754.60 774.5,754.58 775.0,754.56 775.5,754.55 776.0,754.53 776.5,754.51 777.0,754.49 777.5,754.47 778.0,754.44 778.5,754.41 779.0,754.38 779.5,754.34 780.0,754.30 780.5,754.25 781.0,754.20 781.5,754.14 782.0,754.07 782.5,754.01 783.0,753.94 783.5,753.86 784.0,753.79 784.5,753.71 785.0,753.62 785.5,753.53 786.0,753.42 786.5,753.29 787.0,753.13 787.5,752.92 788.0,752.66 788.5,752.32 789.0,751.90 789.5,751.40 790.0,750.84 790.5,750.24 791.0,749.63 791.5,749.07 792.0,748.59 792.5,748.24 793.0,748.06 793.5,748.04 794.0,748.19 794.5,748.47 795.0,748.84 795.5,749.26 796.0,749.69 796.5,750.09 797.0,750.43 797.5,750.72 798.0,750.94 798.5,751.11 799.0,751.25 799.5,751.36 800.0,751.46 800.5,751.55 801.0,751.65 801.5,751.75 802.0,751.86 802.5,751.97 803.0,752.09 803.5,752.20 804.0,752.31 804.5,752.42 805.0,752.51 805.5,752.60 806.0,752.68 806.5,752.74 807.0,752.80 807.5,752.84 808.0,752.88 808.5,752.91 809.0,752.93 809.5,752.95 810.0,752.97 810.5,752.98 811.0,752.98 811.5,752.99 812.0,752.99 812.5,752.99 813.0,753.00 813.5,753.00 814.0,753.00 814.5,753.00 815.0,753.00 815.5,753.00 816.0,753.00 816.5,753.00 817.0,753.00 817.5,753.00 818.0,753.00 818.5,753.00 819.0,753.00 819.5,753.00 820.0,753.00 820.5,753.00 821.0,753.00 821.5,753.00 822.0,753.00 822.5,753.00 823.0,753.00 823.5,753.00 824.0,753.00 824.5,753.00 825.0,753.00 825.5,753.00 826.0,753.00 826.5,753.00 827.0,753.00 827.5,753.00 828.0,753.00 828.5,753.00 829.0,753.00 829.5,753.00 830.0,753.00 830.5,753.00 831.0,753.00 831.5,753.00 832.0,753.00 832.5,753.00 833.0,753.00 833.5,753.00 834.0,753.00 834.5,753.00 835.0,753.00 835.5,753.00 836.0,753.00 836.5,753.00 837.0,753.00 837.5,753.00 838.0,753.00 838.5,753.00 839.0,753.00 839.5,753.00 840.0,753.00 840.5,753.00 841.0,753.00 841.5,753.00 842.0,753.00 842.5,753.00 843.0,753.00 843.5,753.00 844.0,753.00 844.5,753.00 845.0,753.00 845.5,753.00 846.0,753.00 846.5,753.00 847.0,753.00 847.5,753.00 848.0,753.00" fill="none" stroke="#080808" stroke-width="2.1" stroke-linejoin="round" stroke-linecap="round"/>
<text transform="translate(875.67 750.50) scale(0.9378 1)" font-size="26.38" font-weight="bold" fill="#080808" xml:space="preserve">Fr. EV-I+amastatin</text>
<text transform="translate(673.73 136.44) scale(0.9024 1)" font-size="26.02" font-weight="bold" fill="#080808">(a)</text>
<line x1="605.60" y1="711.50" x2="605.60" y2="772.60" stroke="#080808" stroke-width="2.8" stroke-linecap="butt"/>
<line x1="600.90" y1="711.70" x2="610.40" y2="711.70" stroke="#080808" stroke-width="2.4" stroke-linecap="butt"/>
<line x1="600.90" y1="772.40" x2="610.40" y2="772.40" stroke="#080808" stroke-width="2.4" stroke-linecap="butt"/>
<text transform="translate(584.00 787.84) rotate(-90) scale(0.8985 1)" font-size="27.32" font-weight="bold" fill="#080808" xml:space="preserve">25 mAU</text>
<text transform="translate(584.00 667.24) rotate(-90) scale(0.8982 1)" font-size="27.32" font-weight="bold" fill="#080808" xml:space="preserve">Absorbance (215 nm)</text>
<line x1="612.10" y1="789.30" x2="866.00" y2="789.30" stroke="#080808" stroke-width="2.8" stroke-linecap="butt"/>
<line x1="618.70" y1="780.80" x2="618.70" y2="789.30" stroke="#080808" stroke-width="2.6" stroke-linecap="butt"/>
<line x1="665.50" y1="780.80" x2="665.50" y2="789.30" stroke="#080808" stroke-width="2.6" stroke-linecap="butt"/>
<line x1="710.50" y1="780.80" x2="710.50" y2="789.30" stroke="#080808" stroke-width="2.6" stroke-linecap="butt"/>
<line x1="758.20" y1="780.80" x2="758.20" y2="789.30" stroke="#080808" stroke-width="2.6" stroke-linecap="butt"/>
<line x1="804.10" y1="780.80" x2="804.10" y2="789.30" stroke="#080808" stroke-width="2.6" stroke-linecap="butt"/>
<line x1="850.30" y1="780.80" x2="850.30" y2="789.30" stroke="#080808" stroke-width="2.6" stroke-linecap="butt"/>
<text transform="translate(602.94 822.55) scale(1.0087 1)" font-size="25.07" font-weight="bold" fill="#080808">20</text>
<text transform="translate(650.99 822.55) scale(0.9381 1)" font-size="25.07" font-weight="bold" fill="#080808">24</text>
<text transform="translate(695.37 822.55) scale(0.9687 1)" font-size="25.07" font-weight="bold" fill="#080808">28</text>
<text transform="translate(742.24 822.55) scale(1.0087 1)" font-size="25.07" font-weight="bold" fill="#080808">32</text>
<text transform="translate(788.38 822.55) scale(0.9627 1)" font-size="25.07" font-weight="bold" fill="#080808">36</text>
<text transform="translate(834.32 822.55) scale(0.9649 1)" font-size="25.07" font-weight="bold" fill="#080808">40</text>
<text transform="translate(627.27 854.00) scale(0.9835 1)" font-size="25.07" font-weight="bold" fill="#080808" xml:space="preserve">Retention time (min)</text>
<text transform="translate(587.19 898.48) scale(0.9981 1)" font-size="24.02" font-weight="bold" fill="#080808" font-family='IPAGothic, "Liberation Mono", monospace' stroke="#080808" stroke-width="0.5" stroke-linejoin="round">(a)</text>
<text transform="translate(635.53 898.92) scale(0.9973 1)" font-size="25.48" font-weight="bold" fill="#080808" font-family='IPAGothic, "Liberation Mono", monospace' stroke="#080808" stroke-width="0.5" stroke-linejoin="round" xml:space="preserve">RPKPQQFFGLM  substance P</text>
<polyline points="1331.00,77.30 1455.70,101.40 1584.50,74.50 1710.60,79.50" fill="none" stroke="#1f1fff" stroke-width="3.0" stroke-linejoin="round"/>
<polyline points="1331.00,77.30 1456.30,145.00 1584.50,322.50 1710.80,380.00" fill="none" stroke="#c00000" stroke-width="3.0" stroke-linejoin="round"/>
<line x1="1456.30" y1="101.40" x2="1456.30" y2="50.70" stroke="#1f1fff" stroke-width="3.0" stroke-linecap="butt"/>
<line x1="1451.90" y1="50.70" x2="1460.70" y2="50.70" stroke="#1f1fff" stroke-width="3.0" stroke-linecap="butt"/>
<line x1="1584.50" y1="74.50" x2="1584.50" y2="27.00" stroke="#1f1fff" stroke-width="3.0" stroke-linecap="butt"/>
<line x1="1580.10" y1="27.00" x2="1588.90" y2="27.00" stroke="#1f1fff" stroke-width="3.0" stroke-linecap="butt"/>
<line x1="1711.00" y1="79.50" x2="1711.00" y2="50.60" stroke="#1f1fff" stroke-width="3.0" stroke-linecap="butt"/>
<line x1="1706.60" y1="50.60" x2="1715.40" y2="50.60" stroke="#1f1fff" stroke-width="3.0" stroke-linecap="butt"/>
<line x1="1456.40" y1="145.00" x2="1456.40" y2="166.40" stroke="#c00000" stroke-width="3.0" stroke-linecap="butt"/>
<line x1="1452.00" y1="166.40" x2="1460.80" y2="166.40" stroke="#c00000" stroke-width="3.0" stroke-linecap="butt"/>
<line x1="1584.50" y1="322.50" x2="1584.50" y2="330.50" stroke="#c00000" stroke-width="3.0" stroke-linecap="butt"/>
<line x1="1580.10" y1="330.50" x2="1588.90" y2="330.50" stroke="#c00000" stroke-width="3.0" stroke-linecap="butt"/>
<line x1="1331.00" y1="2.40" x2="1331.00" y2="397.60" stroke="#080808" stroke-width="3.2" stroke-linecap="butt"/>
<line x1="1329.40" y1="396.00" x2="1769.00" y2="396.00" stroke="#080808" stroke-width="3.2" stroke-linecap="butt"/>
<line x1="1331.00" y1="14.50" x2="1337.60" y2="14.50" stroke="#080808" stroke-width="2.8" stroke-linecap="butt"/>
<line x1="1331.00" y1="77.80" x2="1337.60" y2="77.80" stroke="#080808" stroke-width="2.8" stroke-linecap="butt"/>
<line x1="1331.00" y1="141.00" x2="1337.60" y2="141.00" stroke="#080808" stroke-width="2.8" stroke-linecap="butt"/>
<line x1="1331.00" y1="204.30" x2="1337.60" y2="204.30" stroke="#080808" stroke-width="2.8" stroke-linecap="butt"/>
<line x1="1331.00" y1="267.30" x2="1337.60" y2="267.30" stroke="#080808" stroke-width="2.8" stroke-linecap="butt"/>
<line x1="1331.00" y1="330.80" x2="1337.60" y2="330.80" stroke="#080808" stroke-width="2.8" stroke-linecap="butt"/>
<line x1="1456.50" y1="388.50" x2="1456.50" y2="396.00" stroke="#080808" stroke-width="2.8" stroke-linecap="butt"/>
<line x1="1584.50" y1="388.50" x2="1584.50" y2="396.00" stroke="#080808" stroke-width="2.8" stroke-linecap="butt"/>
<line x1="1710.60" y1="388.50" x2="1710.60" y2="396.00" stroke="#080808" stroke-width="2.8" stroke-linecap="butt"/>
<circle cx="1331.00" cy="77.30" r="7.7" fill="#1f1fff"/>
<circle cx="1455.70" cy="101.40" r="7.7" fill="#1f1fff"/>
<circle cx="1584.50" cy="74.50" r="7.7" fill="#1f1fff"/>
<circle cx="1710.60" cy="79.50" r="7.7" fill="#1f1fff"/>
<polygon points="1330.80,65.40 1321.30,83.40 1340.30,83.40" fill="#c00000"/>
<polygon points="1456.60,133.60 1447.50,151.40 1465.70,151.40" fill="#c00000"/>
<polygon points="1584.50,312.30 1575.40,330.00 1593.60,330.00" fill="#c00000"/>
<polygon points="1710.80,371.50 1701.70,388.80 1719.90,388.80" fill="#c00000"/>
<path d="M1387.70,74.40 C1387.70,79.90 1389.50,82.00 1391.90,84.00 C1394.50,86.20 1396.40,88.90 1396.40,92.40 C1396.40,94.90 1395.70,97.00 1394.80,98.40" fill="none" stroke="#fff" stroke-width="4.0" stroke-linecap="butt"/>
<path d="M1392.30,74.40 C1392.30,79.90 1394.10,82.00 1396.50,84.00 C1399.10,86.20 1401.00,88.90 1401.00,92.40 C1401.00,94.90 1400.30,97.00 1399.40,98.40" fill="none" stroke="#fff" stroke-width="4.0" stroke-linecap="butt"/>
<path d="M1390.00,74.40 C1390.00,79.90 1391.80,82.00 1394.20,84.00 C1396.80,86.20 1398.70,88.90 1398.70,92.40 C1398.70,94.90 1398.00,97.00 1397.10,98.40" fill="none" stroke="#fff" stroke-width="5.6" stroke-linecap="butt"/>
<path d="M1387.70,74.40 C1387.70,79.90 1389.50,82.00 1391.90,84.00 C1394.50,86.20 1396.40,88.90 1396.40,92.40 C1396.40,94.90 1395.70,97.00 1394.80,98.40" fill="none" stroke="#080808" stroke-width="1.8" stroke-linecap="round"/>
<path d="M1392.30,74.40 C1392.30,79.90 1394.10,82.00 1396.50,84.00 C1399.10,86.20 1401.00,88.90 1401.00,92.40 C1401.00,94.90 1400.30,97.00 1399.40,98.40" fill="none" stroke="#080808" stroke-width="1.8" stroke-linecap="round"/>
<path d="M1387.70,96.30 C1387.70,101.80 1389.50,103.90 1391.90,105.90 C1394.50,108.10 1396.40,110.80 1396.40,114.30 C1396.40,116.80 1395.70,118.90 1394.80,120.30" fill="none" stroke="#fff" stroke-width="4.0" stroke-linecap="butt"/>
<path d="M1392.30,96.30 C1392.30,101.80 1394.10,103.90 1396.50,105.90 C1399.10,108.10 1401.00,110.80 1401.00,114.30 C1401.00,116.80 1400.30,118.90 1399.40,120.30" fill="none" stroke="#fff" stroke-width="4.0" stroke-linecap="butt"/>
<path d="M1390.00,96.30 C1390.00,101.80 1391.80,103.90 1394.20,105.90 C1396.80,108.10 1398.70,110.80 1398.70,114.30 C1398.70,116.80 1398.00,118.90 1397.10,120.30" fill="none" stroke="#fff" stroke-width="5.6" stroke-linecap="butt"/>
<path d="M1387.70,96.30 C1387.70,101.80 1389.50,103.90 1391.90,105.90 C1394.50,108.10 1396.40,110.80 1396.40,114.30 C1396.40,116.80 1395.70,118.90 1394.80,120.30" fill="none" stroke="#080808" stroke-width="1.8" stroke-linecap="round"/>
<path d="M1392.30,96.30 C1392.30,101.80 1394.10,103.90 1396.50,105.90 C1399.10,108.10 1401.00,110.80 1401.00,114.30 C1401.00,116.80 1400.30,118.90 1399.40,120.30" fill="none" stroke="#080808" stroke-width="1.8" stroke-linecap="round"/>
<path d="M1387.60,382.50 C1387.60,388.00 1389.40,390.10 1391.80,392.10 C1394.40,394.30 1396.30,397.00 1396.30,400.50 C1396.30,403.00 1395.60,405.10 1394.70,406.50" fill="none" stroke="#fff" stroke-width="4.0" stroke-linecap="butt"/>
<path d="M1392.20,382.50 C1392.20,388.00 1394.00,390.10 1396.40,392.10 C1399.00,394.30 1400.90,397.00 1400.90,400.50 C1400.90,403.00 1400.20,405.10 1399.30,406.50" fill="none" stroke="#fff" stroke-width="4.0" stroke-linecap="butt"/>
<path d="M1389.90,382.50 C1389.90,388.00 1391.70,390.10 1394.10,392.10 C1396.70,394.30 1398.60,397.00 1398.60,400.50 C1398.60,403.00 1397.90,405.10 1397.00,406.50" fill="none" stroke="#fff" stroke-width="5.6" stroke-linecap="butt"/>
<path d="M1387.60,382.50 C1387.60,388.00 1389.40,390.10 1391.80,392.10 C1394.40,394.30 1396.30,397.00 1396.30,400.50 C1396.30,403.00 1395.60,405.10 1394.70,406.50" fill="none" stroke="#080808" stroke-width="1.8" stroke-linecap="round"/>
<path d="M1392.20,382.50 C1392.20,388.00 1394.00,390.10 1396.40,392.10 C1399.00,394.30 1400.90,397.00 1400.90,400.50 C1400.90,403.00 1400.20,405.10 1399.30,406.50" fill="none" stroke="#080808" stroke-width="1.8" stroke-linecap="round"/>
<text transform="translate(1273.10 24.91) scale(0.9744 1)" font-size="29.15" font-weight="bold" fill="#080808">120</text>
<text transform="translate(1273.10 88.41) scale(0.9744 1)" font-size="29.15" font-weight="bold" fill="#080808">100</text>
<text transform="translate(1288.02 151.41) scale(1.0059 1)" font-size="29.15" font-weight="bold" fill="#080808">80</text>
<text transform="translate(1287.72 214.71) scale(1.0157 1)" font-size="29.15" font-weight="bold" fill="#080808">60</text>
<text transform="translate(1288.32 277.71) scale(0.9963 1)" font-size="29.15" font-weight="bold" fill="#080808">40</text>
<text transform="translate(1288.02 341.21) scale(1.0059 1)" font-size="29.15" font-weight="bold" fill="#080808">20</text>
<text transform="translate(1304.64 407.91) scale(0.9925 1)" font-size="29.15" font-weight="bold" fill="#080808">0</text>
<text transform="translate(1322.02 433.31) scale(1.0144 1)" font-size="29.15" font-weight="bold" fill="#080808">0</text>
<text transform="translate(1427.84 433.31) scale(0.9049 1)" font-size="29.15" font-weight="bold" fill="#080808">0.01</text>
<text transform="translate(1563.96 433.31) scale(0.8887 1)" font-size="29.15" font-weight="bold" fill="#080808">0.1</text>
<text transform="translate(1690.90 433.31) scale(0.9120 1)" font-size="29.15" font-weight="bold" fill="#080808">1.0</text>
<text transform="translate(1415.99 466.00) scale(0.9761 1)" font-size="28.55" font-weight="bold" fill="#080808" xml:space="preserve">concentration (</text>
<text transform="translate(1616.02 465.83) scale(1.2658 1)" font-size="27.46" font-weight="normal" fill="#080808" font-family='"Liberation Serif", "DejaVu Serif", serif' stroke="#080808" stroke-width="0.3" stroke-linejoin="round">μ</text>
<text transform="translate(1633.64 466.00) scale(0.9807 1)" font-size="28.55" font-weight="bold" fill="#080808">M)</text>
<text transform="translate(1234.72 379.95) rotate(-90) scale(1.1004 1)" font-size="27.81" font-weight="normal" fill="#080808" stroke="#080808" stroke-width="0.95" stroke-linejoin="round" xml:space="preserve">Residual hydrolytic activity</text>
<text transform="translate(1266.30 297.15) rotate(-90) scale(1.0414 1)" font-size="27.68" font-weight="normal" fill="#080808" stroke="#080808" stroke-width="0.95" stroke-linejoin="round" xml:space="preserve">of Ala-MCA (%)</text>
<text transform="translate(1630.70 31.71) scale(0.9770 1)" font-size="29.30" font-weight="bold" fill="#222">P=0.8</text>
<text transform="translate(1599.78 300.31) scale(0.9548 1)" font-size="28.73" font-weight="bold" fill="#222">P&lt;0.0001</text>
<polygon points="1592.50,134.80 1583.00,153.60 1602.00,153.60" fill="#c00000"/>
<text transform="translate(1606.27 154.60) scale(0.9668 1)" font-size="28.70" font-weight="bold" fill="#080808">Amastatin</text>
<circle cx="1591.80" cy="181.30" r="7.9" fill="#1f1fff"/>
<text transform="translate(1606.26 190.00) scale(0.9907 1)" font-size="28.12" font-weight="bold" fill="#080808">Alogliptin</text>
<polyline points="1331.00,585.00 1457.00,755.50 1584.00,869.80 1709.50,894.00" fill="none" stroke="#1f1fff" stroke-width="3.0" stroke-linejoin="round"/>
<polyline points="1331.00,585.00 1456.50,589.80 1584.50,605.50 1710.30,611.30" fill="none" stroke="#c00000" stroke-width="3.0" stroke-linejoin="round"/>
<line x1="1456.50" y1="589.80" x2="1456.50" y2="564.50" stroke="#c00000" stroke-width="3.0" stroke-linecap="butt"/>
<line x1="1452.10" y1="564.50" x2="1460.90" y2="564.50" stroke="#c00000" stroke-width="3.0" stroke-linecap="butt"/>
<line x1="1584.50" y1="605.50" x2="1584.50" y2="577.30" stroke="#c00000" stroke-width="3.0" stroke-linecap="butt"/>
<line x1="1580.10" y1="577.30" x2="1588.90" y2="577.30" stroke="#c00000" stroke-width="3.0" stroke-linecap="butt"/>
<line x1="1710.30" y1="611.30" x2="1710.30" y2="599.30" stroke="#c00000" stroke-width="3.0" stroke-linecap="butt"/>
<line x1="1705.90" y1="599.30" x2="1714.70" y2="599.30" stroke="#c00000" stroke-width="3.0" stroke-linecap="butt"/>
<line x1="1457.00" y1="755.50" x2="1457.00" y2="771.00" stroke="#1f1fff" stroke-width="3.0" stroke-linecap="butt"/>
<line x1="1452.60" y1="771.00" x2="1461.40" y2="771.00" stroke="#1f1fff" stroke-width="3.0" stroke-linecap="butt"/>
<line x1="1331.00" y1="510.00" x2="1331.00" y2="904.60" stroke="#080808" stroke-width="3.2" stroke-linecap="butt"/>
<line x1="1329.40" y1="903.00" x2="1769.00" y2="903.00" stroke="#080808" stroke-width="3.2" stroke-linecap="butt"/>
<line x1="1331.00" y1="522.00" x2="1337.60" y2="522.00" stroke="#080808" stroke-width="2.8" stroke-linecap="butt"/>
<line x1="1331.00" y1="585.00" x2="1337.60" y2="585.00" stroke="#080808" stroke-width="2.8" stroke-linecap="butt"/>
<line x1="1331.00" y1="648.30" x2="1337.60" y2="648.30" stroke="#080808" stroke-width="2.8" stroke-linecap="butt"/>
<line x1="1331.00" y1="711.80" x2="1337.60" y2="711.80" stroke="#080808" stroke-width="2.8" stroke-linecap="butt"/>
<line x1="1331.00" y1="774.80" x2="1337.60" y2="774.80" stroke="#080808" stroke-width="2.8" stroke-linecap="butt"/>
<line x1="1331.00" y1="838.00" x2="1337.60" y2="838.00" stroke="#080808" stroke-width="2.8" stroke-linecap="butt"/>
<line x1="1457.00" y1="894.30" x2="1457.00" y2="903.00" stroke="#080808" stroke-width="2.8" stroke-linecap="butt"/>
<line x1="1584.00" y1="894.30" x2="1584.00" y2="903.00" stroke="#080808" stroke-width="2.8" stroke-linecap="butt"/>
<line x1="1710.30" y1="894.30" x2="1710.30" y2="903.00" stroke="#080808" stroke-width="2.8" stroke-linecap="butt"/>
<circle cx="1331.00" cy="585.00" r="7.7" fill="#1f1fff"/>
<circle cx="1457.00" cy="755.50" r="7.7" fill="#1f1fff"/>
<circle cx="1584.00" cy="869.80" r="7.7" fill="#1f1fff"/>
<circle cx="1709.50" cy="894.00" r="7.7" fill="#1f1fff"/>
<polygon points="1331.00,573.50 1321.50,591.50 1340.50,591.50" fill="#c00000"/>
<polygon points="1456.50,578.30 1447.40,596.00 1465.60,596.00" fill="#c00000"/>
<polygon points="1584.50,595.30 1575.40,613.20 1593.60,613.20" fill="#c00000"/>
<polygon points="1710.30,601.00 1701.20,618.80 1719.40,618.80" fill="#c00000"/>
<path d="M1387.60,573.00 C1387.60,578.50 1389.40,580.60 1391.80,582.60 C1394.40,584.80 1396.30,587.50 1396.30,591.00 C1396.30,593.50 1395.60,595.60 1394.70,597.00" fill="none" stroke="#fff" stroke-width="4.0" stroke-linecap="butt"/>
<path d="M1392.20,573.00 C1392.20,578.50 1394.00,580.60 1396.40,582.60 C1399.00,584.80 1400.90,587.50 1400.90,591.00 C1400.90,593.50 1400.20,595.60 1399.30,597.00" fill="none" stroke="#fff" stroke-width="4.0" stroke-linecap="butt"/>
<path d="M1389.90,573.00 C1389.90,578.50 1391.70,580.60 1394.10,582.60 C1396.70,584.80 1398.60,587.50 1398.60,591.00 C1398.60,593.50 1397.90,595.60 1397.00,597.00" fill="none" stroke="#fff" stroke-width="5.6" stroke-linecap="butt"/>
<path d="M1387.60,573.00 C1387.60,578.50 1389.40,580.60 1391.80,582.60 C1394.40,584.80 1396.30,587.50 1396.30,591.00 C1396.30,593.50 1395.60,595.60 1394.70,597.00" fill="none" stroke="#080808" stroke-width="1.8" stroke-linecap="round"/>
<path d="M1392.20,573.00 C1392.20,578.50 1394.00,580.60 1396.40,582.60 C1399.00,584.80 1400.90,587.50 1400.90,591.00 C1400.90,593.50 1400.20,595.60 1399.30,597.00" fill="none" stroke="#080808" stroke-width="1.8" stroke-linecap="round"/>
<path d="M1387.60,653.60 C1387.60,659.10 1389.40,661.20 1391.80,663.20 C1394.40,665.40 1396.30,668.10 1396.30,671.60 C1396.30,674.10 1395.60,676.20 1394.70,677.60" fill="none" stroke="#fff" stroke-width="4.0" stroke-linecap="butt"/>
<path d="M1392.20,653.60 C1392.20,659.10 1394.00,661.20 1396.40,663.20 C1399.00,665.40 1400.90,668.10 1400.90,671.60 C1400.90,674.10 1400.20,676.20 1399.30,677.60" fill="none" stroke="#fff" stroke-width="4.0" stroke-linecap="butt"/>
<path d="M1389.90,653.60 C1389.90,659.10 1391.70,661.20 1394.10,663.20 C1396.70,665.40 1398.60,668.10 1398.60,671.60 C1398.60,674.10 1397.90,676.20 1397.00,677.60" fill="none" stroke="#fff" stroke-width="5.6" stroke-linecap="butt"/>
<path d="M1387.60,653.60 C1387.60,659.10 1389.40,661.20 1391.80,663.20 C1394.40,665.40 1396.30,668.10 1396.30,671.60 C1396.30,674.10 1395.60,676.20 1394.70,677.60" fill="none" stroke="#080808" stroke-width="1.8" stroke-linecap="round"/>
<path d="M1392.20,653.60 C1392.20,659.10 1394.00,661.20 1396.40,663.20 C1399.00,665.40 1400.90,668.10 1400.90,671.60 C1400.90,674.10 1400.20,676.20 1399.30,677.60" fill="none" stroke="#080808" stroke-width="1.8" stroke-linecap="round"/>
<path d="M1387.60,888.90 C1387.60,894.40 1389.40,896.50 1391.80,898.50 C1394.40,900.70 1396.30,903.40 1396.30,906.90 C1396.30,909.40 1395.60,911.50 1394.70,912.90" fill="none" stroke="#fff" stroke-width="4.0" stroke-linecap="butt"/>
<path d="M1392.20,888.90 C1392.20,894.40 1394.00,896.50 1396.40,898.50 C1399.00,900.70 1400.90,903.40 1400.90,906.90 C1400.90,909.40 1400.20,911.50 1399.30,912.90" fill="none" stroke="#fff" stroke-width="4.0" stroke-linecap="butt"/>
<path d="M1389.90,888.90 C1389.90,894.40 1391.70,896.50 1394.10,898.50 C1396.70,900.70 1398.60,903.40 1398.60,906.90 C1398.60,909.40 1397.90,911.50 1397.00,912.90" fill="none" stroke="#fff" stroke-width="5.6" stroke-linecap="butt"/>
<path d="M1387.60,888.90 C1387.60,894.40 1389.40,896.50 1391.80,898.50 C1394.40,900.70 1396.30,903.40 1396.30,906.90 C1396.30,909.40 1395.60,911.50 1394.70,912.90" fill="none" stroke="#080808" stroke-width="1.8" stroke-linecap="round"/>
<path d="M1392.20,888.90 C1392.20,894.40 1394.00,896.50 1396.40,898.50 C1399.00,900.70 1400.90,903.40 1400.90,906.90 C1400.90,909.40 1400.20,911.50 1399.30,912.90" fill="none" stroke="#080808" stroke-width="1.8" stroke-linecap="round"/>
<text transform="translate(1273.10 532.41) scale(0.9744 1)" font-size="29.15" font-weight="bold" fill="#080808">120</text>
<text transform="translate(1273.10 595.41) scale(0.9744 1)" font-size="29.15" font-weight="bold" fill="#080808">100</text>
<text transform="translate(1288.02 658.71) scale(1.0059 1)" font-size="29.15" font-weight="bold" fill="#080808">80</text>
<text transform="translate(1287.72 722.21) scale(1.0157 1)" font-size="29.15" font-weight="bold" fill="#080808">60</text>
<text transform="translate(1288.32 785.21) scale(0.9963 1)" font-size="29.15" font-weight="bold" fill="#080808">40</text>
<text transform="translate(1288.02 848.41) scale(1.0059 1)" font-size="29.15" font-weight="bold" fill="#080808">20</text>
<text transform="translate(1304.64 914.61) scale(0.9925 1)" font-size="29.15" font-weight="bold" fill="#080808">0</text>
<text transform="translate(1321.32 940.41) scale(1.0144 1)" font-size="29.15" font-weight="bold" fill="#080808">0</text>
<text transform="translate(1428.24 940.41) scale(0.9049 1)" font-size="29.15" font-weight="bold" fill="#080808">0.01</text>
<text transform="translate(1563.96 940.41) scale(0.8887 1)" font-size="29.15" font-weight="bold" fill="#080808">0.1</text>
<text transform="translate(1690.90 940.41) scale(0.9120 1)" font-size="29.15" font-weight="bold" fill="#080808">1.0</text>
<text transform="translate(1415.28 973.20) scale(0.9766 1)" font-size="28.55" font-weight="bold" fill="#080808" xml:space="preserve">concentration (</text>
<text transform="translate(1615.42 973.03) scale(1.2658 1)" font-size="27.46" font-weight="normal" fill="#080808" font-family='"Liberation Serif", "DejaVu Serif", serif' stroke="#080808" stroke-width="0.3" stroke-linejoin="round">μ</text>
<text transform="translate(1633.04 973.20) scale(0.9807 1)" font-size="28.55" font-weight="bold" fill="#080808">M)</text>
<text transform="translate(1234.52 885.95) rotate(-90) scale(1.0998 1)" font-size="27.81" font-weight="normal" fill="#080808" stroke="#080808" stroke-width="0.95" stroke-linejoin="round" xml:space="preserve">Residual hydrolytic activity</text>
<text transform="translate(1266.30 833.46) rotate(-90) scale(1.0490 1)" font-size="27.68" font-weight="normal" fill="#080808" stroke="#080808" stroke-width="0.95" stroke-linejoin="round" xml:space="preserve">of Gly-Pro-MCA (%)</text>
<text transform="translate(1615.61 567.01) scale(0.9696 1)" font-size="29.30" font-weight="bold" fill="#222">P=0.4</text>
<text transform="translate(1604.88 843.01) scale(0.9296 1)" font-size="29.44" font-weight="bold" fill="#222">P&lt;0.0001</text>
<polygon points="1597.50,643.00 1588.40,661.50 1606.60,661.50" fill="#c00000"/>
<text transform="translate(1610.67 662.80) scale(0.9675 1)" font-size="28.70" font-weight="bold" fill="#080808">Amastatin</text>
<circle cx="1596.30" cy="688.80" r="7.9" fill="#1f1fff"/>
<text transform="translate(1610.66 699.10) scale(0.9753 1)" font-size="28.70" font-weight="bold" fill="#080808">Alogliptin</text>
</svg>
</body>
</html>
